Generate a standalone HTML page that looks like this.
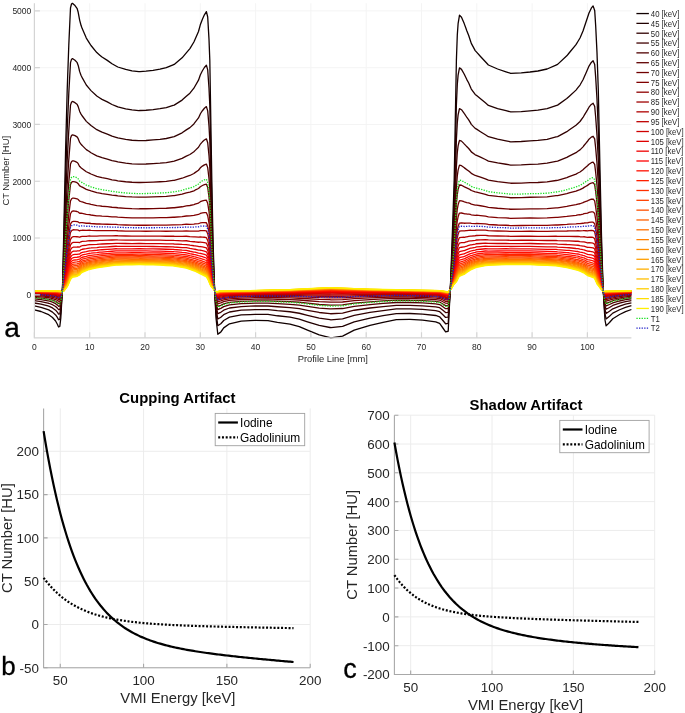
<!DOCTYPE html><html><head><meta charset="utf-8"><style>html,body{margin:0;padding:0;background:#fff}svg{display:block;will-change:transform}text{font-family:"Liberation Sans",sans-serif;fill:#262626}</style></head><body>
<svg width="685" height="713" viewBox="0 0 685 713">
<g stroke="#f4f4f4" stroke-width="1"><line x1="89.70" y1="3.20" x2="89.70" y2="337.80"/><line x1="145.00" y1="3.20" x2="145.00" y2="337.80"/><line x1="200.30" y1="3.20" x2="200.30" y2="337.80"/><line x1="255.60" y1="3.20" x2="255.60" y2="337.80"/><line x1="310.90" y1="3.20" x2="310.90" y2="337.80"/><line x1="366.20" y1="3.20" x2="366.20" y2="337.80"/><line x1="421.50" y1="3.20" x2="421.50" y2="337.80"/><line x1="476.80" y1="3.20" x2="476.80" y2="337.80"/><line x1="532.10" y1="3.20" x2="532.10" y2="337.80"/><line x1="587.40" y1="3.20" x2="587.40" y2="337.80"/><line x1="34.40" y1="294.80" x2="631.40" y2="294.80"/><line x1="34.40" y1="238.02" x2="631.40" y2="238.02"/><line x1="34.40" y1="181.24" x2="631.40" y2="181.24"/><line x1="34.40" y1="124.46" x2="631.40" y2="124.46"/><line x1="34.40" y1="67.68" x2="631.40" y2="67.68"/><line x1="34.40" y1="10.90" x2="631.40" y2="10.90"/></g>
<g fill="none" stroke-width="1.3" stroke-linejoin="round"><polyline points="34.40,309.80 41.00,311.50 48.00,314.41 48.70,314.70 52.50,317.50 55.60,321.00 57.50,324.50 58.00,325.64 58.60,327.00 59.80,326.50 60.50,320.55 60.80,318.00 62.50,288.00 63.60,240.00 63.90,226.50 65.50,154.50 65.60,150.00 67.20,90.00 67.40,84.37 68.80,45.00 69.00,40.64 70.40,10.08 70.50,7.90 71.50,4.00 72.00,3.65 72.50,3.30 73.50,4.22 75.00,5.60 77.00,8.27 77.10,8.40 78.20,12.30 79.60,19.77 79.70,20.30 80.80,24.53 81.00,25.30 82.20,28.60 82.30,28.83 86.30,38.10 89.30,42.82 91.00,45.50 96.80,52.60 99.80,55.14 102.00,57.00 107.30,60.40 112.00,63.80 116.00,66.01 117.80,67.00 125.70,69.40 132.00,70.80 138.80,71.60 140.00,71.53 146.00,71.20 153.10,70.30 160.00,69.20 166.30,67.70 173.10,64.86 174.20,64.40 182.10,57.80 186.30,52.85 189.90,48.60 193.90,42.00 195.00,39.49 198.50,31.50 200.30,24.87 200.40,24.50 202.40,19.20 204.40,14.80 206.40,11.60 207.70,17.00 208.20,25.62 209.00,39.40 209.80,60.00 210.80,120.00 211.80,180.00 213.00,240.00 214.30,280.63 214.60,290.00 216.00,318.00 216.50,322.53 217.80,334.30 220.00,332.61 220.80,332.00 223.70,327.90 229.50,323.80 241.20,321.10 250.00,320.60 255.20,320.30 268.00,320.60 277.40,322.30 290.00,324.10 299.30,326.70 307.50,330.20 319.20,334.90 330.00,337.58 330.90,337.80 342.60,336.10 354.20,330.20 370.00,325.30 383.10,322.30 396.30,319.70 409.40,319.40 410.00,319.43 422.60,320.10 435.70,321.80 439.60,323.40 440.00,323.96 442.90,328.00 445.60,331.90 448.00,331.25 448.20,331.20 449.20,310.00 449.50,304.55 450.30,290.00 451.30,262.50 452.30,235.00 453.50,200.26 454.20,180.00 455.30,120.00 456.40,60.00 456.50,57.22 457.30,35.00 458.10,23.70 459.10,17.56 459.50,15.10 461.50,17.30 464.00,23.00 464.40,24.11 466.10,28.83 466.70,30.50 468.70,35.50 470.50,40.97 471.30,43.40 475.20,50.60 476.60,52.16 480.50,56.50 485.40,61.77 488.40,65.00 497.60,69.00 506.00,71.76 510.70,73.30 521.20,72.90 530.00,72.00 537.90,71.00 547.10,69.00 556.00,65.10 557.60,64.40 566.80,55.80 569.10,53.02 576.00,44.70 577.90,41.52 580.00,38.00 583.00,31.00 584.00,28.00 586.00,22.00 587.50,17.50 589.00,13.00 591.30,8.20 593.10,5.90 594.50,9.92 594.70,10.50 595.70,26.30 597.00,52.60 597.20,58.35 598.30,90.00 600.00,170.00 600.70,200.80 601.50,236.00 603.00,285.00 603.50,294.58 604.20,308.00 605.00,320.00 606.00,325.36 606.10,325.90 609.50,322.50 612.80,318.70 619.60,314.50 625.50,311.60 631.40,309.50" stroke="#100000"/><polyline points="34.40,305.97 41.00,307.32 48.00,309.65 48.70,309.88 52.50,312.11 55.60,314.91 57.50,317.70 58.00,318.61 58.60,319.72 59.80,319.36 60.50,314.63 60.80,312.61 62.50,288.77 63.60,250.32 63.90,239.51 65.50,181.63 65.60,178.01 67.20,129.71 67.40,125.17 68.80,93.10 69.00,89.53 70.40,64.45 70.50,62.68 71.50,59.34 72.00,58.95 72.50,58.62 73.50,59.25 75.00,60.29 77.00,62.35 77.10,62.45 78.20,65.44 79.60,71.25 79.70,71.65 80.80,74.73 81.00,75.32 82.20,77.77 82.30,77.94 86.30,85.02 89.30,88.55 91.00,90.61 96.80,96.04 99.80,97.94 102.00,99.36 107.30,101.93 112.00,104.52 116.00,106.17 117.80,106.95 125.70,108.84 132.00,109.93 138.80,110.54 140.00,110.48 146.00,110.24 153.10,109.56 160.00,108.72 166.30,107.60 173.10,105.41 174.20,105.08 182.10,100.08 186.30,96.27 189.90,93.14 193.90,88.16 195.00,86.23 198.50,80.20 200.30,75.08 200.40,74.80 202.40,70.77 204.40,67.47 206.40,65.12 207.70,69.88 208.20,76.93 209.00,88.31 209.80,105.14 210.80,153.51 211.80,201.63 213.00,249.79 214.30,282.52 214.60,290.05 216.00,312.63 216.50,316.33 217.80,325.67 220.00,324.22 220.80,323.73 223.70,320.45 229.50,317.16 241.20,314.97 250.00,314.55 255.20,314.28 268.00,314.46 277.40,315.77 290.00,317.14 299.30,319.12 307.50,321.83 319.20,325.47 330.00,327.50 330.90,327.68 342.60,326.42 354.20,321.80 370.00,318.02 383.10,315.68 396.30,313.65 409.40,313.47 410.00,313.49 422.60,314.08 435.70,315.49 439.60,316.78 440.00,317.23 442.90,320.55 445.60,323.75 448.00,323.32 448.20,323.23 449.20,306.12 449.50,301.71 450.30,289.94 451.30,267.79 452.30,245.49 453.50,217.36 454.20,201.03 455.30,152.88 456.40,104.74 456.50,102.50 457.30,84.44 458.10,75.10 459.10,69.79 459.50,67.80 461.50,69.38 464.00,73.73 464.40,74.58 466.10,78.09 466.70,79.33 468.70,83.04 470.50,87.15 471.30,89.02 475.20,94.43 476.60,95.56 480.50,98.86 485.40,102.87 488.40,105.42 497.60,108.53 506.00,110.66 510.70,111.89 521.20,111.57 530.00,110.85 537.90,110.13 547.10,108.63 556.00,105.61 557.60,105.10 566.80,98.55 569.10,96.41 576.00,90.11 577.90,87.67 580.00,85.05 583.00,79.73 584.00,77.42 586.00,72.93 587.50,69.56 589.00,66.08 591.30,62.42 593.10,60.72 594.50,64.04 594.70,64.59 595.70,77.66 597.00,99.25 597.20,103.93 598.30,129.47 600.00,193.77 600.70,218.53 601.50,246.79 603.00,286.21 603.50,293.96 604.20,304.65 605.00,314.21 606.00,318.47 606.10,318.90 609.50,316.18 612.80,313.13 619.60,309.76 625.50,307.42 631.40,305.73" stroke="#200000"/><polyline points="34.40,303.00 41.00,304.09 48.00,305.96 48.70,306.14 52.50,307.94 55.60,310.19 57.50,312.44 58.00,313.17 58.60,314.08 59.80,313.82 60.50,310.04 60.80,308.44 62.50,289.36 63.60,258.32 63.90,249.59 65.50,202.65 65.60,199.71 67.20,160.47 67.40,156.77 68.80,130.36 69.00,127.40 70.40,106.56 70.50,105.12 71.50,102.22 72.00,101.79 72.50,101.47 73.50,101.87 75.00,102.66 77.00,104.25 77.10,104.32 78.20,106.61 79.60,111.13 79.70,111.43 80.80,113.62 81.00,114.06 82.20,115.87 82.30,115.99 86.30,121.37 89.30,123.97 91.00,125.56 96.80,129.68 99.80,131.09 102.00,132.18 107.30,134.10 112.00,136.06 116.00,137.28 117.80,137.90 125.70,139.38 132.00,140.24 138.80,140.70 140.00,140.65 146.00,140.49 153.10,139.97 160.00,139.33 166.30,138.50 173.10,136.83 174.20,136.60 182.10,132.83 186.30,129.90 189.90,127.64 193.90,123.91 195.00,122.44 198.50,117.92 200.30,113.98 200.40,113.76 202.40,110.72 204.40,108.26 206.40,106.57 207.70,110.84 208.20,116.68 209.00,126.20 209.80,140.10 210.80,179.46 211.80,218.38 213.00,257.38 214.30,283.98 214.60,290.09 216.00,308.47 216.50,311.53 217.80,318.98 220.00,317.72 220.80,317.32 223.70,314.67 229.50,312.01 241.20,310.22 250.00,309.86 255.20,309.62 268.00,309.70 277.40,310.71 290.00,311.75 299.30,313.25 307.50,315.35 319.20,318.16 330.00,319.69 330.90,319.84 342.60,318.92 354.20,315.30 370.00,312.38 383.10,310.54 396.30,308.97 409.40,308.87 410.00,308.90 422.60,309.42 435.70,310.60 439.60,311.66 440.00,312.02 442.90,314.78 445.60,317.44 448.00,317.17 448.20,317.06 449.20,303.12 449.50,299.52 450.30,289.89 451.30,271.88 452.30,253.62 453.50,230.60 454.20,217.31 455.30,178.36 456.40,139.40 456.50,137.58 457.30,122.74 458.10,114.91 459.10,110.25 459.50,108.62 461.50,109.73 464.00,113.02 464.40,113.67 466.10,116.24 466.70,117.16 468.70,119.86 470.50,122.92 471.30,124.36 475.20,128.39 476.60,129.17 480.50,131.68 485.40,134.70 488.40,136.73 497.60,139.15 506.00,140.79 510.70,141.78 521.20,141.52 530.00,140.95 537.90,140.45 547.10,139.33 556.00,136.98 557.60,136.63 566.80,131.66 569.10,130.02 576.00,125.29 577.90,123.42 580.00,121.49 583.00,117.47 584.00,115.70 586.00,112.38 587.50,109.89 589.00,107.20 591.30,104.43 593.10,103.19 594.50,105.96 594.70,106.49 595.70,117.45 597.00,135.38 597.20,139.24 598.30,160.05 600.00,212.18 600.70,232.27 601.50,255.15 603.00,287.15 603.50,293.48 604.20,302.06 605.00,309.73 606.00,313.13 606.10,313.48 609.50,311.28 612.80,308.82 619.60,306.08 625.50,304.19 631.40,302.81" stroke="#300000"/><polyline points="34.40,300.69 41.00,301.57 48.00,303.09 48.70,303.24 52.50,304.70 55.60,306.52 57.50,308.34 58.00,308.93 58.60,309.69 59.80,309.52 60.50,306.48 60.80,305.19 62.50,289.82 63.60,264.54 63.90,257.43 65.50,219.00 65.60,216.60 67.20,184.40 67.40,181.35 68.80,159.35 69.00,156.86 70.40,139.33 70.50,138.14 71.50,135.57 72.00,135.12 72.50,134.81 73.50,135.03 75.00,135.63 77.00,136.85 77.10,136.90 78.20,138.64 79.60,142.17 79.70,142.38 80.80,143.88 81.00,144.21 82.20,145.50 82.30,145.59 86.30,149.64 89.30,151.53 91.00,152.75 96.80,155.86 99.80,156.88 102.00,157.71 107.30,159.13 112.00,160.60 116.00,161.48 117.80,161.98 125.70,163.15 132.00,163.82 138.80,164.17 140.00,164.12 146.00,164.02 153.10,163.63 160.00,163.15 166.30,162.55 173.10,161.27 174.20,161.12 182.10,158.32 186.30,156.07 189.90,154.48 193.90,151.73 195.00,150.61 198.50,147.27 200.30,144.25 200.40,144.08 202.40,141.81 204.40,140.00 206.40,138.83 207.70,142.71 208.20,147.61 209.00,155.68 209.80,167.30 210.80,199.65 211.80,231.42 213.00,263.28 214.30,285.12 214.60,290.12 216.00,305.24 216.50,307.79 217.80,313.78 220.00,312.66 220.80,312.33 223.70,310.18 229.50,308.01 241.20,306.53 250.00,306.21 255.20,305.99 268.00,306.00 277.40,306.77 290.00,307.56 299.30,308.69 307.50,310.31 319.20,312.48 330.00,313.61 330.90,313.74 342.60,313.08 354.20,310.24 370.00,307.99 383.10,306.55 396.30,305.33 409.40,305.30 410.00,305.32 422.60,305.79 435.70,306.80 439.60,307.67 440.00,307.96 442.90,310.29 445.60,312.53 448.00,312.38 448.20,312.26 449.20,300.78 449.50,297.81 450.30,289.86 451.30,275.06 452.30,259.95 453.50,240.90 454.20,229.98 455.30,198.18 456.40,166.37 456.50,164.87 457.30,152.54 458.10,145.89 459.10,141.73 459.50,140.38 461.50,141.12 464.00,143.59 464.40,144.09 466.10,145.93 466.70,146.59 468.70,148.52 470.50,150.75 471.30,151.86 475.20,154.81 476.60,155.33 480.50,157.21 485.40,159.47 488.40,161.09 497.60,162.98 506.00,164.24 510.70,165.04 521.20,164.83 530.00,164.36 537.90,164.03 547.10,163.21 556.00,161.40 557.60,161.16 566.80,157.42 569.10,156.17 576.00,152.66 577.90,151.23 580.00,149.85 583.00,146.84 584.00,145.49 586.00,143.08 587.50,141.27 589.00,139.20 591.30,137.11 593.10,136.23 594.50,138.58 594.70,139.09 595.70,148.40 597.00,163.50 597.20,166.71 598.30,183.84 600.00,226.50 600.70,242.95 601.50,261.66 603.00,287.88 603.50,293.10 604.20,300.05 605.00,306.25 606.00,308.98 606.10,309.26 609.50,307.46 612.80,305.46 619.60,303.22 625.50,301.67 631.40,300.53" stroke="#400000"/><polyline points="34.40,298.88 41.00,299.61 48.00,300.84 48.70,300.97 52.50,302.16 55.60,303.65 57.50,305.13 58.00,305.62 58.60,306.25 59.80,306.15 60.50,303.68 60.80,302.65 62.50,290.18 63.60,269.40 63.90,263.56 65.50,231.79 65.60,229.80 67.20,203.12 67.40,200.58 68.80,182.02 69.00,179.91 70.40,164.96 70.50,163.96 71.50,161.66 72.00,161.19 72.50,160.88 73.50,160.97 75.00,161.41 77.00,162.35 77.10,162.37 78.20,163.69 79.60,166.43 79.70,166.58 80.80,167.54 81.00,167.78 82.20,168.68 82.30,168.74 86.30,171.76 89.30,173.08 91.00,174.01 96.80,176.34 99.80,177.05 102.00,177.67 107.30,178.71 112.00,179.79 116.00,180.41 117.80,180.81 125.70,181.74 132.00,182.26 138.80,182.52 140.00,182.48 146.00,182.42 153.10,182.14 160.00,181.77 166.30,181.35 173.10,180.38 174.20,180.29 182.10,178.24 186.30,176.54 189.90,175.47 193.90,173.48 195.00,172.64 198.50,170.23 200.30,167.91 200.40,167.79 202.40,166.12 204.40,164.83 206.40,164.05 207.70,167.63 208.20,171.79 209.00,178.74 209.80,188.58 210.80,215.45 211.80,241.61 213.00,267.90 214.30,286.01 214.60,290.14 216.00,302.71 216.50,304.87 217.80,309.71 220.00,308.70 220.80,308.43 223.70,306.67 229.50,304.88 241.20,303.64 250.00,303.36 255.20,303.16 268.00,303.10 277.40,303.69 290.00,304.28 299.30,305.11 307.50,306.37 319.20,308.03 330.00,308.86 330.90,308.97 342.60,308.52 354.20,306.28 370.00,304.56 383.10,303.43 396.30,302.48 409.40,302.50 410.00,302.52 422.60,302.95 435.70,303.82 439.60,304.55 440.00,304.79 442.90,306.78 445.60,308.69 448.00,308.64 448.20,308.51 449.20,298.96 449.50,296.47 450.30,289.83 451.30,277.56 452.30,264.89 453.50,248.96 454.20,239.89 455.30,213.68 456.40,187.46 456.50,186.22 457.30,175.84 458.10,170.12 459.10,166.36 459.50,165.21 461.50,165.67 464.00,167.50 464.40,167.88 466.10,169.14 466.70,169.61 468.70,170.92 470.50,172.52 471.30,173.36 475.20,175.47 476.60,175.79 480.50,177.18 485.40,178.84 488.40,180.14 497.60,181.61 506.00,182.57 510.70,183.23 521.20,183.06 530.00,182.68 537.90,182.48 547.10,181.89 556.00,180.49 557.60,180.34 566.80,177.57 569.10,176.62 576.00,174.07 577.90,172.98 580.00,172.02 583.00,169.81 584.00,168.79 586.00,167.09 587.50,165.81 589.00,164.22 591.30,162.67 593.10,162.07 594.50,164.09 594.70,164.59 595.70,172.61 597.00,185.48 597.20,188.19 598.30,202.45 600.00,237.70 600.70,251.31 601.50,266.74 603.00,288.45 603.50,292.81 604.20,298.47 605.00,303.52 606.00,305.73 606.10,305.96 609.50,304.48 612.80,302.84 619.60,300.99 625.50,299.70 631.40,298.75" stroke="#500000"/><polyline points="34.40,297.44 41.00,298.04 48.00,299.05 48.70,299.15 52.50,300.13 55.60,301.36 57.50,302.58 58.00,302.98 58.60,303.52 59.80,303.47 60.50,301.46 60.80,300.63 62.50,290.47 63.60,273.28 63.90,268.45 65.50,241.98 65.60,240.33 67.20,218.04 67.40,215.91 68.80,200.10 69.00,198.28 70.40,185.39 70.50,184.55 71.50,182.45 72.00,181.97 72.50,181.67 73.50,181.64 75.00,181.96 77.00,182.67 77.10,182.68 78.20,183.66 79.60,185.78 79.70,185.88 80.80,186.40 81.00,186.58 82.20,187.16 82.30,187.19 86.30,189.39 89.30,190.26 91.00,190.97 96.80,192.66 99.80,193.14 102.00,193.59 107.30,194.31 112.00,195.09 116.00,195.50 117.80,195.83 125.70,196.56 132.00,196.96 138.80,197.15 140.00,197.11 146.00,197.09 153.10,196.89 160.00,196.62 166.30,196.35 173.10,195.62 174.20,195.58 182.10,194.13 186.30,192.85 189.90,192.20 193.90,190.82 195.00,190.20 198.50,188.53 200.30,186.78 200.40,186.69 202.40,185.49 204.40,184.62 206.40,184.16 207.70,187.50 208.20,191.08 209.00,197.11 209.80,205.54 210.80,228.04 211.80,249.74 213.00,271.58 214.30,286.72 214.60,290.16 216.00,300.69 216.50,302.54 217.80,306.46 220.00,305.55 220.80,305.33 223.70,303.87 229.50,302.38 241.20,301.34 250.00,301.09 255.20,300.90 268.00,300.79 277.40,301.24 290.00,301.66 299.30,302.27 307.50,303.22 319.20,304.49 330.00,305.07 330.90,305.17 342.60,304.88 354.20,303.12 370.00,301.82 383.10,300.94 396.30,300.20 409.40,300.27 410.00,300.29 422.60,300.69 435.70,301.45 439.60,302.06 440.00,302.26 442.90,303.98 445.60,305.63 448.00,305.66 448.20,305.52 449.20,297.50 449.50,295.41 450.30,289.80 451.30,279.54 452.30,268.83 453.50,255.38 454.20,247.79 455.30,226.03 456.40,204.27 456.50,203.23 457.30,194.42 458.10,189.43 459.10,185.98 459.50,185.02 461.50,185.24 464.00,186.56 464.40,186.84 466.10,187.65 466.70,187.95 468.70,188.79 470.50,189.87 471.30,190.50 475.20,191.94 476.60,192.09 480.50,193.09 485.40,194.28 488.40,195.33 497.60,196.46 506.00,197.19 510.70,197.73 521.20,197.59 530.00,197.27 537.90,197.18 547.10,196.78 556.00,195.71 557.60,195.64 566.80,193.64 569.10,192.92 576.00,191.13 577.90,190.33 580.00,189.70 583.00,188.12 584.00,187.36 586.00,186.22 587.50,185.38 589.00,184.17 591.30,183.04 593.10,182.67 594.50,184.42 594.70,184.91 595.70,191.91 597.00,203.01 597.20,205.32 598.30,217.28 600.00,246.63 600.70,257.97 601.50,270.80 603.00,288.90 603.50,292.58 604.20,297.21 605.00,301.35 606.00,303.14 606.10,303.33 609.50,302.11 612.80,300.74 619.60,299.21 625.50,298.13 631.40,297.34" stroke="#600000"/><polyline points="34.40,296.30 41.00,296.79 48.00,297.63 48.70,297.72 52.50,298.53 55.60,299.54 57.50,300.55 58.00,300.88 58.60,301.34 59.80,301.33 60.50,299.69 60.80,299.02 62.50,290.70 63.60,276.37 63.90,272.34 65.50,250.08 65.60,248.69 67.20,229.90 67.40,228.09 68.80,214.46 69.00,212.88 70.40,201.62 70.50,200.91 71.50,198.98 72.00,198.48 72.50,198.19 73.50,198.08 75.00,198.29 77.00,198.82 77.10,198.82 78.20,199.53 79.60,201.15 79.70,201.21 80.80,201.39 81.00,201.51 82.20,201.84 82.30,201.86 86.30,203.40 89.30,203.91 91.00,204.44 96.80,205.63 99.80,205.91 102.00,206.24 107.30,206.71 112.00,207.24 116.00,207.50 117.80,207.76 125.70,208.33 132.00,208.65 138.80,208.78 140.00,208.74 146.00,208.75 153.10,208.61 160.00,208.42 166.30,208.26 173.10,207.73 174.20,207.73 182.10,206.76 186.30,205.82 189.90,205.50 193.90,204.61 195.00,204.16 198.50,203.07 200.30,201.78 200.40,201.70 202.40,200.89 204.40,200.34 206.40,200.14 207.70,203.29 208.20,206.40 209.00,211.72 209.80,219.01 210.80,238.04 211.80,256.19 213.00,274.50 214.30,287.29 214.60,290.17 216.00,299.09 216.50,300.69 217.80,303.89 220.00,303.04 220.80,302.86 223.70,301.64 229.50,300.40 241.20,299.51 250.00,299.28 255.20,299.10 268.00,298.96 277.40,299.29 290.00,299.58 299.30,300.00 307.50,300.73 319.20,301.67 330.00,302.06 330.90,302.15 342.60,301.99 354.20,300.61 370.00,299.65 383.10,298.96 396.30,298.40 409.40,298.50 410.00,298.52 422.60,298.89 435.70,299.57 439.60,300.08 440.00,300.25 442.90,301.76 445.60,303.20 448.00,303.29 448.20,303.14 449.20,296.34 449.50,294.56 450.30,289.79 451.30,281.12 452.30,271.97 453.50,260.48 454.20,254.07 455.30,235.85 456.40,217.63 456.50,216.75 457.30,209.18 458.10,204.78 459.10,201.58 459.50,200.75 461.50,200.80 464.00,201.71 464.40,201.91 466.10,202.35 466.70,202.54 468.70,202.98 470.50,203.66 471.30,204.12 475.20,205.03 476.60,205.05 480.50,205.74 485.40,206.55 488.40,207.40 497.60,208.27 506.00,208.80 510.70,209.25 521.20,209.13 530.00,208.87 537.90,208.87 547.10,208.61 556.00,207.80 557.60,207.79 566.80,206.40 569.10,205.87 576.00,204.69 577.90,204.11 580.00,203.75 583.00,202.67 584.00,202.11 586.00,201.43 587.50,200.92 589.00,200.02 591.30,199.23 593.10,199.04 594.50,200.58 594.70,201.07 595.70,207.24 597.00,216.94 597.20,218.93 598.30,229.06 600.00,253.73 600.70,263.27 601.50,274.02 603.00,289.26 603.50,292.39 604.20,296.21 605.00,299.62 606.00,301.08 606.10,301.24 609.50,300.22 612.80,299.08 619.60,297.79 625.50,296.88 631.40,296.21" stroke="#700000"/><polyline points="34.40,295.40 41.00,295.81 48.00,296.52 48.70,296.59 52.50,297.26 55.60,298.11 57.50,298.96 58.00,299.23 58.60,299.64 59.80,299.66 60.50,298.30 60.80,297.76 62.50,290.88 63.60,278.78 63.90,275.39 65.50,256.44 65.60,255.26 67.20,239.20 67.40,237.65 68.80,225.73 69.00,224.33 70.40,214.36 70.50,213.74 71.50,211.95 72.00,211.43 72.50,211.15 73.50,210.97 75.00,211.11 77.00,211.49 77.10,211.48 78.20,211.98 79.60,213.21 79.70,213.24 80.80,213.15 81.00,213.23 82.20,213.36 82.30,213.36 86.30,214.39 89.30,214.63 91.00,215.00 96.80,215.80 99.80,215.94 102.00,216.16 107.30,216.44 112.00,216.78 116.00,216.90 117.80,217.12 125.70,217.57 132.00,217.81 138.80,217.90 140.00,217.86 146.00,217.90 153.10,217.81 160.00,217.68 166.30,217.61 173.10,217.23 174.20,217.26 182.10,216.66 186.30,215.99 189.90,215.94 193.90,215.42 195.00,215.11 198.50,214.48 200.30,213.54 200.40,213.49 202.40,212.98 204.40,212.68 206.40,212.68 207.70,215.68 208.20,218.42 209.00,223.18 209.80,229.59 210.80,245.89 211.80,261.26 213.00,276.80 214.30,287.73 214.60,290.19 216.00,297.83 216.50,299.24 217.80,301.86 220.00,301.07 220.80,300.92 223.70,299.90 229.50,298.84 241.20,298.07 250.00,297.86 255.20,297.69 268.00,297.52 277.40,297.75 290.00,297.95 299.30,298.23 307.50,298.77 319.20,299.46 330.00,299.70 330.90,299.78 342.60,299.72 354.20,298.65 370.00,297.94 383.10,297.41 396.30,296.98 409.40,297.11 410.00,297.12 422.60,297.48 435.70,298.09 439.60,298.53 440.00,298.68 442.90,300.01 445.60,301.29 448.00,301.43 448.20,301.27 449.20,295.43 449.50,293.90 450.30,289.77 451.30,282.36 452.30,274.43 453.50,264.49 454.20,259.00 455.30,243.56 456.40,228.11 456.50,227.36 457.30,220.77 458.10,216.82 459.10,213.82 459.50,213.10 461.50,213.00 464.00,213.59 464.40,213.73 466.10,213.89 466.70,213.98 468.70,214.12 470.50,214.48 471.30,214.81 475.20,215.29 476.60,215.22 480.50,215.67 485.40,216.18 488.40,216.86 497.60,217.53 506.00,217.92 510.70,218.29 521.20,218.19 530.00,217.98 537.90,218.03 547.10,217.90 556.00,217.29 557.60,217.33 566.80,216.41 569.10,216.04 576.00,215.33 577.90,214.92 580.00,214.77 583.00,214.08 584.00,213.69 586.00,213.36 587.50,213.12 589.00,212.45 591.30,211.94 593.10,211.89 594.50,213.26 594.70,213.74 595.70,219.28 597.00,227.87 597.20,229.60 598.30,238.31 600.00,259.30 600.70,267.42 601.50,276.55 603.00,289.55 603.50,292.25 604.20,295.43 605.00,298.26 606.00,299.47 606.10,299.60 609.50,298.74 612.80,297.78 619.60,296.68 625.50,295.91 631.40,295.33" stroke="#800000"/><polyline points="34.40,294.68 41.00,295.02 48.00,295.62 48.70,295.68 52.50,296.25 55.60,296.96 57.50,297.68 58.00,297.91 58.60,298.26 59.80,298.31 60.50,297.19 60.80,296.74 62.50,291.02 63.60,280.73 63.90,277.84 65.50,261.55 65.60,260.53 67.20,246.68 67.40,245.33 68.80,234.79 69.00,233.54 70.40,224.60 70.50,224.07 71.50,222.38 72.00,221.86 72.50,221.57 73.50,221.34 75.00,221.41 77.00,221.68 77.10,221.67 78.20,221.99 79.60,222.92 79.70,222.92 80.80,222.62 81.00,222.66 82.20,222.63 82.30,222.62 86.30,223.24 89.30,223.24 91.00,223.51 96.80,223.99 99.80,224.01 102.00,224.15 107.30,224.27 112.00,224.45 116.00,224.47 117.80,224.65 125.70,225.00 132.00,225.19 138.80,225.24 140.00,225.20 146.00,225.25 153.10,225.21 160.00,225.12 166.30,225.12 173.10,224.88 174.20,224.93 182.10,224.63 186.30,224.18 189.90,224.33 193.90,224.12 195.00,223.92 198.50,223.65 200.30,223.00 200.40,222.97 202.40,222.70 204.40,222.61 206.40,222.76 207.70,225.65 208.20,228.09 209.00,232.40 209.80,238.09 210.80,252.21 211.80,265.34 213.00,278.64 214.30,288.09 214.60,290.20 216.00,296.82 216.50,298.07 217.80,300.24 220.00,299.49 220.80,299.36 223.70,298.49 229.50,297.59 241.20,296.92 250.00,296.72 255.20,296.56 268.00,296.36 277.40,296.52 290.00,296.64 299.30,296.80 307.50,297.19 319.20,297.68 330.00,297.80 330.90,297.87 342.60,297.90 354.20,297.06 370.00,296.57 383.10,296.16 396.30,295.84 409.40,295.99 410.00,296.01 422.60,296.34 435.70,296.90 439.60,297.29 440.00,297.41 442.90,298.61 445.60,299.75 448.00,299.93 448.20,299.77 449.20,294.70 449.50,293.37 450.30,289.76 451.30,283.35 452.30,276.40 453.50,267.71 454.20,262.96 455.30,249.75 456.40,236.55 456.50,235.89 457.30,230.08 458.10,226.51 459.10,223.66 459.50,223.03 461.50,222.81 464.00,223.15 464.40,223.25 466.10,223.18 466.70,223.18 468.70,223.08 470.50,223.18 471.30,223.41 475.20,223.55 476.60,223.40 480.50,223.65 485.40,223.93 488.40,224.48 497.60,224.98 506.00,225.25 510.70,225.56 521.20,225.48 530.00,225.30 537.90,225.41 547.10,225.37 556.00,224.92 557.60,225.00 566.80,224.47 569.10,224.21 576.00,223.89 577.90,223.61 580.00,223.64 583.00,223.26 584.00,223.01 586.00,222.96 587.50,222.93 589.00,222.46 591.30,222.16 593.10,222.22 594.50,223.46 594.70,223.93 595.70,228.95 597.00,236.66 597.20,238.19 598.30,245.75 600.00,263.78 600.70,270.76 601.50,278.58 603.00,289.78 603.50,292.13 604.20,294.80 605.00,297.17 606.00,298.17 606.10,298.28 609.50,297.54 612.80,296.73 619.60,295.78 625.50,295.12 631.40,294.62" stroke="#8f0000"/><polyline points="34.40,294.09 41.00,294.39 48.00,294.89 48.70,294.94 52.50,295.42 55.60,296.03 57.50,296.64 58.00,296.83 58.60,297.15 59.80,297.22 60.50,296.28 60.80,295.92 62.50,291.14 63.60,282.31 63.90,279.83 65.50,265.70 65.60,264.82 67.20,252.76 67.40,251.57 68.80,242.15 69.00,241.02 70.40,232.92 70.50,232.45 71.50,230.84 72.00,230.32 72.50,230.03 73.50,229.75 75.00,229.78 77.00,229.96 77.10,229.94 78.20,230.12 79.60,230.79 79.70,230.77 80.80,230.29 81.00,230.31 82.20,230.15 82.30,230.13 86.30,230.41 89.30,230.24 91.00,230.41 96.80,230.63 99.80,230.55 102.00,230.63 107.30,230.62 112.00,230.68 116.00,230.62 117.80,230.76 125.70,231.04 132.00,231.17 138.80,231.19 140.00,231.16 146.00,231.23 153.10,231.22 160.00,231.17 166.30,231.23 173.10,231.08 174.20,231.15 182.10,231.10 186.30,230.82 189.90,231.14 193.90,231.18 195.00,231.07 198.50,231.10 200.30,230.68 200.40,230.66 202.40,230.58 204.40,230.66 206.40,230.95 207.70,233.73 208.20,235.94 209.00,239.88 209.80,245.00 210.80,257.33 211.80,268.64 213.00,280.14 214.30,288.38 214.60,290.20 216.00,296.00 216.50,297.12 217.80,298.92 220.00,298.21 220.80,298.09 223.70,297.35 229.50,296.58 241.20,295.98 250.00,295.80 255.20,295.64 268.00,295.42 277.40,295.52 290.00,295.58 299.30,295.64 307.50,295.91 319.20,296.24 330.00,296.26 330.90,296.32 342.60,296.42 354.20,295.78 370.00,295.45 383.10,295.15 396.30,294.92 409.40,295.08 410.00,295.10 422.60,295.42 435.70,295.93 439.60,296.27 440.00,296.38 442.90,297.47 445.60,298.51 448.00,298.72 448.20,298.55 449.20,294.11 449.50,292.93 450.30,289.75 451.30,284.16 452.30,278.01 453.50,270.32 454.20,266.18 455.30,254.78 456.40,243.39 456.50,242.82 457.30,237.65 458.10,234.37 459.10,231.65 459.50,231.09 461.50,230.78 464.00,230.91 464.40,230.97 466.10,230.71 466.70,230.65 468.70,230.35 470.50,230.25 471.30,230.39 475.20,230.26 476.60,230.04 480.50,230.13 485.40,230.21 488.40,230.66 497.60,231.02 506.00,231.20 510.70,231.47 521.20,231.40 530.00,231.24 537.90,231.39 547.10,231.43 556.00,231.12 557.60,231.22 566.80,231.01 569.10,230.85 576.00,230.83 577.90,230.67 580.00,230.83 583.00,230.72 584.00,230.56 586.00,230.75 587.50,230.90 589.00,230.58 591.30,230.45 593.10,230.61 594.50,231.73 594.70,232.21 595.70,236.81 597.00,243.79 597.20,245.16 598.30,251.79 600.00,267.41 600.70,273.48 601.50,280.23 603.00,289.96 603.50,292.03 604.20,294.29 605.00,296.29 606.00,297.12 606.10,297.21 609.50,296.58 612.80,295.87 619.60,295.06 625.50,294.48 631.40,294.04" stroke="#9f0000"/><polyline points="34.40,293.61 41.00,293.86 48.00,294.29 48.70,294.34 52.50,294.75 55.60,295.27 57.50,295.79 58.00,295.95 58.60,296.24 59.80,296.33 60.50,295.54 60.80,295.24 62.50,291.24 63.60,283.60 63.90,281.46 65.50,269.10 65.60,268.33 67.20,257.73 67.40,256.69 68.80,248.18 69.00,247.15 70.40,239.73 70.50,239.31 71.50,237.78 72.00,237.25 72.50,236.97 73.50,236.65 75.00,236.63 77.00,236.74 77.10,236.71 78.20,236.78 79.60,237.24 79.70,237.21 80.80,236.59 81.00,236.58 82.20,236.31 82.30,236.29 86.30,236.29 89.30,235.97 91.00,236.06 96.80,236.08 99.80,235.92 102.00,235.94 107.30,235.83 112.00,235.79 116.00,235.65 117.80,235.76 125.70,235.98 132.00,236.07 138.80,236.07 140.00,236.04 146.00,236.12 153.10,236.14 160.00,236.12 166.30,236.23 173.10,236.16 174.20,236.25 182.10,236.40 186.30,236.26 189.90,236.72 193.90,236.96 195.00,236.92 198.50,237.21 200.30,236.98 200.40,236.97 202.40,237.05 204.40,237.26 206.40,237.66 207.70,240.36 208.20,242.37 209.00,246.01 209.80,250.66 210.80,261.53 211.80,271.35 213.00,281.37 214.30,288.61 214.60,290.21 216.00,295.33 216.50,296.35 217.80,297.83 220.00,297.16 220.80,297.06 223.70,296.42 229.50,295.74 241.20,295.21 250.00,295.04 255.20,294.88 268.00,294.65 277.40,294.71 290.00,294.70 299.30,294.69 307.50,294.86 319.20,295.06 330.00,294.99 330.90,295.06 342.60,295.20 354.20,294.73 370.00,294.54 383.10,294.32 396.30,294.16 409.40,294.34 410.00,294.35 422.60,294.67 435.70,295.14 439.60,295.45 440.00,295.53 442.90,296.53 445.60,297.48 448.00,297.72 448.20,297.55 449.20,293.62 449.50,292.58 450.30,289.74 451.30,284.82 452.30,279.32 453.50,272.47 454.20,268.81 455.30,258.91 456.40,249.00 456.50,248.49 457.30,243.84 458.10,240.81 459.10,238.20 459.50,237.69 461.50,237.31 464.00,237.27 464.40,237.29 466.10,236.88 466.70,236.77 468.70,236.31 470.50,236.04 471.30,236.10 475.20,235.75 476.60,235.48 480.50,235.44 485.40,235.36 488.40,235.73 497.60,235.98 506.00,236.07 510.70,236.30 521.20,236.24 530.00,236.11 537.90,236.30 547.10,236.39 556.00,236.20 557.60,236.32 566.80,236.37 569.10,236.29 576.00,236.52 577.90,236.46 580.00,236.73 583.00,236.83 584.00,236.76 586.00,237.14 587.50,237.42 589.00,237.23 591.30,237.25 593.10,237.48 594.50,238.52 594.70,238.99 595.70,243.25 597.00,249.64 597.20,250.88 598.30,256.74 600.00,270.39 600.70,275.70 601.50,281.59 603.00,290.11 603.50,291.96 604.20,293.87 605.00,295.56 606.00,296.25 606.10,296.33 609.50,295.78 612.80,295.18 619.60,294.46 625.50,293.96 631.40,293.57" stroke="#af0000"/><polyline points="34.40,293.21 41.00,293.43 48.00,293.80 48.70,293.84 52.50,294.19 55.60,294.64 57.50,295.08 58.00,295.22 58.60,295.48 59.80,295.59 60.50,294.93 60.80,294.68 62.50,291.32 63.60,284.67 63.90,282.81 65.50,271.92 65.60,271.24 67.20,261.85 67.40,260.92 68.80,253.17 69.00,252.22 70.40,245.37 70.50,245.00 71.50,243.52 72.00,242.98 72.50,242.71 73.50,242.36 75.00,242.31 77.00,242.35 77.10,242.32 78.20,242.29 79.60,242.59 79.70,242.54 80.80,241.79 81.00,241.76 82.20,241.41 82.30,241.38 86.30,241.16 89.30,240.71 91.00,240.74 96.80,240.58 99.80,240.36 102.00,240.33 107.30,240.13 112.00,240.01 116.00,239.82 117.80,239.91 125.70,240.07 132.00,240.13 138.80,240.11 140.00,240.08 146.00,240.17 153.10,240.21 160.00,240.22 166.30,240.37 173.10,240.37 174.20,240.47 182.10,240.78 186.30,240.76 189.90,241.34 193.90,241.75 195.00,241.77 198.50,242.26 200.30,242.19 200.40,242.18 202.40,242.40 204.40,242.73 206.40,243.21 207.70,245.85 208.20,247.69 209.00,251.08 209.80,255.34 210.80,265.01 211.80,273.60 213.00,282.39 214.30,288.81 214.60,290.21 216.00,294.77 216.50,295.70 217.80,296.94 220.00,296.28 220.80,296.20 223.70,295.64 229.50,295.06 241.20,294.58 250.00,294.41 255.20,294.26 268.00,294.02 277.40,294.03 290.00,293.98 299.30,293.91 307.50,293.99 319.20,294.08 330.00,293.95 330.90,294.01 342.60,294.20 354.20,293.86 370.00,293.78 383.10,293.63 396.30,293.53 409.40,293.72 410.00,293.74 422.60,294.04 435.70,294.49 439.60,294.76 440.00,294.84 442.90,295.76 445.60,296.64 448.00,296.90 448.20,296.73 449.20,293.22 449.50,292.28 450.30,289.74 451.30,285.37 452.30,280.41 453.50,274.24 454.20,270.99 455.30,262.32 456.40,253.64 456.50,253.19 457.30,248.97 458.10,246.14 459.10,243.61 459.50,243.16 461.50,242.71 464.00,242.53 464.40,242.53 466.10,241.99 466.70,241.83 468.70,241.24 470.50,240.83 471.30,240.84 475.20,240.30 476.60,239.98 480.50,239.83 485.40,239.63 488.40,239.92 497.60,240.08 506.00,240.11 510.70,240.30 521.20,240.25 530.00,240.14 537.90,240.36 547.10,240.51 556.00,240.40 557.60,240.54 566.80,240.80 569.10,240.79 576.00,241.23 577.90,241.24 580.00,241.61 583.00,241.88 584.00,241.88 586.00,242.42 587.50,242.82 589.00,242.74 591.30,242.87 593.10,243.16 594.50,244.13 594.70,244.60 595.70,248.58 597.00,254.48 597.20,255.60 598.30,260.83 600.00,272.86 600.70,277.54 601.50,282.71 603.00,290.24 603.50,291.89 604.20,293.52 605.00,294.96 606.00,295.54 606.10,295.61 609.50,295.13 612.80,294.60 619.60,293.97 625.50,293.52 631.40,293.17" stroke="#bf0000"/><polyline points="34.40,292.88 41.00,293.07 48.00,293.39 48.70,293.42 52.50,293.72 55.60,294.11 57.50,294.49 58.00,294.61 58.60,294.85 59.80,294.97 60.50,294.41 60.80,294.21 62.50,291.38 63.60,285.57 63.90,283.94 65.50,274.27 65.60,273.67 67.20,265.30 67.40,264.45 68.80,257.34 69.00,256.46 70.40,250.09 70.50,249.75 71.50,248.32 72.00,247.78 72.50,247.50 73.50,247.13 75.00,247.05 77.00,247.04 77.10,247.00 78.20,246.90 79.60,247.05 79.70,246.99 80.80,246.15 81.00,246.10 82.20,245.68 82.30,245.64 86.30,245.23 89.30,244.68 91.00,244.65 96.80,244.35 99.80,244.07 102.00,244.00 107.30,243.74 112.00,243.54 116.00,243.30 117.80,243.37 125.70,243.49 132.00,243.53 138.80,243.49 140.00,243.46 146.00,243.55 153.10,243.61 160.00,243.65 166.30,243.83 173.10,243.88 174.20,244.00 182.10,244.45 186.30,244.53 189.90,245.21 193.90,245.75 195.00,245.83 198.50,246.48 200.30,246.54 200.40,246.54 202.40,246.87 204.40,247.29 206.40,247.85 207.70,250.43 208.20,252.14 209.00,255.32 209.80,259.25 210.80,267.91 211.80,275.47 213.00,283.23 214.30,288.97 214.60,290.22 216.00,294.30 216.50,295.16 217.80,296.19 220.00,295.56 220.80,295.48 223.70,295.00 229.50,294.48 241.20,294.04 250.00,293.88 255.20,293.74 268.00,293.48 277.40,293.46 290.00,293.38 299.30,293.25 307.50,293.27 319.20,293.26 330.00,293.07 330.90,293.13 342.60,293.36 354.20,293.13 370.00,293.15 383.10,293.06 396.30,293.01 409.40,293.21 410.00,293.22 422.60,293.52 435.70,293.94 439.60,294.18 440.00,294.25 442.90,295.12 445.60,295.93 448.00,296.21 448.20,296.04 449.20,292.88 449.50,292.04 450.30,289.73 451.30,285.83 452.30,281.32 453.50,275.72 454.20,272.82 455.30,265.17 456.40,257.52 456.50,257.12 457.30,253.26 458.10,250.60 459.10,248.14 459.50,247.73 461.50,247.23 464.00,246.93 464.40,246.90 466.10,246.26 466.70,246.07 468.70,245.36 470.50,244.83 471.30,244.79 475.20,244.10 476.60,243.74 480.50,243.51 485.40,243.19 488.40,243.43 497.60,243.51 506.00,243.48 510.70,243.65 521.20,243.61 530.00,243.51 537.90,243.75 547.10,243.94 556.00,243.91 557.60,244.07 566.80,244.51 569.10,244.55 576.00,245.17 577.90,245.25 580.00,245.69 583.00,246.10 584.00,246.17 586.00,246.84 587.50,247.34 589.00,247.34 591.30,247.57 593.10,247.92 594.50,248.82 594.70,249.29 595.70,253.03 597.00,258.52 597.20,259.56 598.30,264.25 600.00,274.92 600.70,279.07 601.50,283.64 603.00,290.34 603.50,291.84 604.20,293.23 605.00,294.46 606.00,294.94 606.10,295.00 609.50,294.58 612.80,294.12 619.60,293.56 625.50,293.16 631.40,292.85" stroke="#cf0000"/><polyline points="34.40,292.60 41.00,292.76 48.00,293.04 48.70,293.06 52.50,293.33 55.60,293.66 57.50,293.99 58.00,294.10 58.60,294.32 59.80,294.44 60.50,293.98 60.80,293.82 62.50,291.44 63.60,286.32 63.90,284.89 65.50,276.26 65.60,275.72 67.20,268.20 67.40,267.44 68.80,260.86 69.00,260.04 70.40,254.07 70.50,253.76 71.50,252.37 72.00,251.83 72.50,251.55 73.50,251.16 75.00,251.06 77.00,251.00 77.10,250.96 78.20,250.80 79.60,250.82 79.70,250.75 80.80,249.82 81.00,249.76 82.20,249.28 82.30,249.24 86.30,248.66 89.30,248.03 91.00,247.96 96.80,247.53 99.80,247.20 102.00,247.11 107.30,246.78 112.00,246.52 116.00,246.24 117.80,246.30 125.70,246.38 132.00,246.39 138.80,246.34 140.00,246.31 146.00,246.41 153.10,246.49 160.00,246.54 166.30,246.75 173.10,246.85 174.20,246.98 182.10,247.54 186.30,247.71 189.90,248.47 193.90,249.13 195.00,249.25 198.50,250.05 200.30,250.22 200.40,250.23 202.40,250.65 204.40,251.15 206.40,251.77 207.70,254.31 208.20,255.90 209.00,258.91 209.80,262.56 210.80,270.36 211.80,277.06 213.00,283.95 214.30,289.11 214.60,290.22 216.00,293.91 216.50,294.71 217.80,295.56 220.00,294.94 220.80,294.87 223.70,294.45 229.50,293.99 241.20,293.60 250.00,293.44 255.20,293.30 268.00,293.03 277.40,292.98 290.00,292.87 299.30,292.69 307.50,292.65 319.20,292.57 330.00,292.33 330.90,292.39 342.60,292.65 354.20,292.51 370.00,292.62 383.10,292.57 396.30,292.57 409.40,292.77 410.00,292.79 422.60,293.08 435.70,293.48 439.60,293.70 440.00,293.76 442.90,294.57 445.60,295.34 448.00,295.63 448.20,295.45 449.20,292.60 449.50,291.83 450.30,289.73 451.30,286.22 452.30,282.09 453.50,276.97 454.20,274.36 455.30,267.58 456.40,260.80 456.50,260.43 457.30,256.88 458.10,254.36 459.10,251.97 459.50,251.59 461.50,251.04 464.00,250.64 464.40,250.60 466.10,249.87 466.70,249.64 468.70,248.84 470.50,248.21 471.30,248.13 475.20,247.31 476.60,246.92 480.50,246.61 485.40,246.20 488.40,246.39 497.60,246.40 506.00,246.33 510.70,246.48 521.20,246.44 530.00,246.35 537.90,246.62 547.10,246.84 556.00,246.88 557.60,247.05 566.80,247.64 569.10,247.73 576.00,248.50 577.90,248.63 580.00,249.13 583.00,249.67 584.00,249.79 586.00,250.57 587.50,251.15 589.00,251.23 591.30,251.55 593.10,251.93 594.50,252.79 594.70,253.25 595.70,256.79 597.00,261.94 597.20,262.90 598.30,267.15 600.00,276.66 600.70,280.37 601.50,284.43 603.00,290.43 603.50,291.79 604.20,292.99 605.00,294.04 606.00,294.44 606.10,294.49 609.50,294.12 612.80,293.71 619.60,293.21 625.50,292.85 631.40,292.57" stroke="#df0000"/><polyline points="34.40,292.36 41.00,292.50 48.00,292.74 48.70,292.76 52.50,292.99 55.60,293.28 57.50,293.57 58.00,293.66 58.60,293.86 59.80,294.00 60.50,293.61 60.80,293.48 62.50,291.49 63.60,286.97 63.90,285.70 65.50,277.95 65.60,277.47 67.20,270.69 67.40,269.99 68.80,263.87 69.00,263.09 70.40,257.46 70.50,257.18 71.50,255.83 72.00,255.28 72.50,255.01 73.50,254.60 75.00,254.47 77.00,254.38 77.10,254.34 78.20,254.12 79.60,254.04 79.70,253.96 80.80,252.96 81.00,252.89 82.20,252.35 82.30,252.30 86.30,251.60 89.30,250.88 91.00,250.78 96.80,250.24 99.80,249.88 102.00,249.75 107.30,249.37 112.00,249.07 116.00,248.75 117.80,248.80 125.70,248.84 132.00,248.84 138.80,248.77 140.00,248.74 146.00,248.85 153.10,248.94 160.00,249.01 166.30,249.24 173.10,249.39 174.20,249.52 182.10,250.19 186.30,250.42 189.90,251.25 193.90,252.02 195.00,252.17 198.50,253.09 200.30,253.36 200.40,253.37 202.40,253.87 204.40,254.44 206.40,255.11 207.70,257.61 208.20,259.11 209.00,261.96 209.80,265.38 210.80,272.46 211.80,278.41 213.00,284.56 214.30,289.23 214.60,290.23 216.00,293.58 216.50,294.32 217.80,295.02 220.00,294.42 220.80,294.36 223.70,293.99 229.50,293.58 241.20,293.21 250.00,293.06 255.20,292.92 268.00,292.65 277.40,292.57 290.00,292.43 299.30,292.22 307.50,292.13 319.20,291.98 330.00,291.70 330.90,291.76 342.60,292.05 354.20,291.99 370.00,292.16 383.10,292.16 396.30,292.19 409.40,292.40 410.00,292.42 422.60,292.70 435.70,293.08 439.60,293.29 440.00,293.34 442.90,294.10 445.60,294.83 448.00,295.13 448.20,294.96 449.20,292.36 449.50,291.65 450.30,289.72 451.30,286.55 452.30,282.75 453.50,278.04 454.20,275.67 455.30,269.63 456.40,263.59 456.50,263.26 457.30,259.97 458.10,257.57 459.10,255.23 459.50,254.88 461.50,254.30 464.00,253.81 464.40,253.75 466.10,252.95 466.70,252.70 468.70,251.81 470.50,251.10 471.30,250.98 475.20,250.05 476.60,249.63 480.50,249.26 485.40,248.77 488.40,248.91 497.60,248.87 506.00,248.76 510.70,248.89 521.20,248.86 530.00,248.78 537.90,249.06 547.10,249.32 556.00,249.41 557.60,249.60 566.80,250.31 569.10,250.44 576.00,251.34 577.90,251.51 580.00,252.07 583.00,252.72 584.00,252.88 586.00,253.75 587.50,254.40 589.00,254.54 591.30,254.93 593.10,255.36 594.50,256.17 594.70,256.63 595.70,260.00 597.00,264.86 597.20,265.74 598.30,269.61 600.00,278.14 600.70,281.48 601.50,285.11 603.00,290.51 603.50,291.75 604.20,292.78 605.00,293.68 606.00,294.01 606.10,294.05 609.50,293.72 612.80,293.36 619.60,292.92 625.50,292.59 631.40,292.34" stroke="#ef0000"/><polyline points="34.40,292.15 41.00,292.28 48.00,292.48 48.70,292.50 52.50,292.70 55.60,292.95 57.50,293.20 58.00,293.28 58.60,293.47 59.80,293.61 60.50,293.29 60.80,293.19 62.50,291.53 63.60,287.52 63.90,286.40 65.50,279.41 65.60,278.98 67.20,272.82 67.40,272.19 68.80,266.46 69.00,265.73 70.40,260.39 70.50,260.13 71.50,258.81 72.00,258.26 72.50,257.99 73.50,257.56 75.00,257.42 77.00,257.29 77.10,257.25 78.20,256.98 79.60,256.81 79.70,256.72 80.80,255.66 81.00,255.58 82.20,255.00 82.30,254.95 86.30,254.12 89.30,253.34 91.00,253.20 96.80,252.58 99.80,252.18 102.00,252.03 107.30,251.61 112.00,251.26 116.00,250.91 117.80,250.95 125.70,250.96 132.00,250.94 138.80,250.87 140.00,250.84 146.00,250.96 153.10,251.06 160.00,251.14 166.30,251.39 173.10,251.57 174.20,251.71 182.10,252.46 186.30,252.76 189.90,253.65 193.90,254.50 195.00,254.69 198.50,255.71 200.30,256.06 200.40,256.08 202.40,256.65 204.40,257.28 206.40,257.99 207.70,260.46 208.20,261.87 209.00,264.60 209.80,267.81 210.80,274.26 211.80,279.57 213.00,285.09 214.30,289.33 214.60,290.23 216.00,293.29 216.50,293.99 217.80,294.55 220.00,293.97 220.80,293.91 223.70,293.58 229.50,293.22 241.20,292.88 250.00,292.74 255.20,292.60 268.00,292.32 277.40,292.22 290.00,292.06 299.30,291.81 307.50,291.68 319.20,291.47 330.00,291.16 330.90,291.21 342.60,291.52 354.20,291.54 370.00,291.77 383.10,291.80 396.30,291.86 409.40,292.08 410.00,292.10 422.60,292.38 435.70,292.74 439.60,292.93 440.00,292.98 442.90,293.70 445.60,294.39 448.00,294.70 448.20,294.53 449.20,292.15 449.50,291.50 450.30,289.72 451.30,286.83 452.30,283.31 453.50,278.96 454.20,276.80 455.30,271.40 456.40,266.00 456.50,265.70 457.30,262.63 458.10,260.34 459.10,258.05 459.50,257.72 461.50,257.10 464.00,256.54 464.40,256.47 466.10,255.60 466.70,255.32 468.70,254.37 470.50,253.58 471.30,253.44 475.20,252.41 476.60,251.97 480.50,251.54 485.40,250.98 488.40,251.09 497.60,251.00 506.00,250.86 510.70,250.97 521.20,250.94 530.00,250.87 537.90,251.17 547.10,251.45 556.00,251.59 557.60,251.79 566.80,252.61 569.10,252.77 576.00,253.78 577.90,253.99 580.00,254.61 583.00,255.34 584.00,255.54 586.00,256.49 587.50,257.21 589.00,257.40 591.30,257.85 593.10,258.31 594.50,259.08 594.70,259.54 595.70,262.77 597.00,267.37 597.20,268.20 598.30,271.74 600.00,279.42 600.70,282.44 601.50,285.69 603.00,290.57 603.50,291.72 604.20,292.60 605.00,293.36 606.00,293.63 606.10,293.67 609.50,293.38 612.80,293.06 619.60,292.66 625.50,292.37 631.40,292.13" stroke="#ff0000"/><polyline points="34.40,291.97 41.00,292.08 48.00,292.26 48.70,292.28 52.50,292.45 55.60,292.67 57.50,292.88 58.00,292.95 58.60,293.13 59.80,293.28 60.50,293.01 60.80,292.94 62.50,291.57 63.60,288.01 63.90,287.01 65.50,280.68 65.60,280.29 67.20,274.68 67.40,274.10 68.80,268.71 69.00,268.02 70.40,262.94 70.50,262.70 71.50,261.40 72.00,260.85 72.50,260.58 73.50,260.13 75.00,259.98 77.00,259.82 77.10,259.78 78.20,259.47 79.60,259.22 79.70,259.13 80.80,258.01 81.00,257.92 82.20,257.30 82.30,257.25 86.30,256.32 89.30,255.49 91.00,255.32 96.80,254.62 99.80,254.18 102.00,254.02 107.30,253.55 112.00,253.16 116.00,252.79 117.80,252.82 125.70,252.81 132.00,252.77 138.80,252.69 140.00,252.66 146.00,252.78 153.10,252.89 160.00,252.99 166.30,253.26 173.10,253.47 174.20,253.61 182.10,254.44 186.30,254.79 189.90,255.73 193.90,256.66 195.00,256.87 198.50,257.99 200.30,258.41 200.40,258.43 202.40,259.06 204.40,259.74 206.40,260.50 207.70,262.93 208.20,264.27 209.00,266.89 209.80,269.92 210.80,275.83 211.80,280.59 213.00,285.55 214.30,289.42 214.60,290.23 216.00,293.04 216.50,293.70 217.80,294.15 220.00,293.57 220.80,293.52 223.70,293.24 229.50,292.91 241.20,292.60 250.00,292.45 255.20,292.31 268.00,292.03 277.40,291.92 290.00,291.73 299.30,291.46 307.50,291.29 319.20,291.03 330.00,290.69 330.90,290.74 342.60,291.07 354.20,291.14 370.00,291.43 383.10,291.49 396.30,291.58 409.40,291.81 410.00,291.82 422.60,292.10 435.70,292.45 439.60,292.62 440.00,292.66 442.90,293.35 445.60,294.01 448.00,294.33 448.20,294.15 449.20,291.97 449.50,291.37 450.30,289.72 451.30,287.08 452.30,283.80 453.50,279.76 454.20,277.79 455.30,272.94 456.40,268.10 456.50,267.82 457.30,264.95 458.10,262.75 459.10,260.49 459.50,260.18 461.50,259.54 464.00,258.92 464.40,258.83 466.10,257.90 466.70,257.61 468.70,256.60 470.50,255.75 471.30,255.58 475.20,254.46 476.60,254.00 480.50,253.52 485.40,252.90 488.40,252.98 497.60,252.85 506.00,252.68 510.70,252.77 521.20,252.75 530.00,252.69 537.90,253.00 547.10,253.31 556.00,253.49 557.60,253.69 566.80,254.61 569.10,254.80 576.00,255.91 577.90,256.16 580.00,256.81 583.00,257.62 584.00,257.85 586.00,258.88 587.50,259.64 589.00,259.89 591.30,260.39 593.10,260.88 594.50,261.61 594.70,262.07 595.70,265.17 597.00,269.55 597.20,270.33 598.30,273.58 600.00,280.54 600.70,283.27 601.50,286.19 603.00,290.63 603.50,291.69 604.20,292.44 605.00,293.09 606.00,293.31 606.10,293.34 609.50,293.08 612.80,292.80 619.60,292.44 625.50,292.17 631.40,291.96" stroke="#ff1000"/><polyline points="34.40,291.82 41.00,291.92 48.00,292.07 48.70,292.09 52.50,292.24 55.60,292.43 57.50,292.62 58.00,292.68 58.60,292.84 59.80,293.00 60.50,292.78 60.80,292.73 62.50,291.60 63.60,288.41 63.90,287.52 65.50,281.75 65.60,281.39 67.20,276.25 67.40,275.70 68.80,270.60 69.00,269.94 70.40,265.08 70.50,264.85 71.50,263.58 72.00,263.03 72.50,262.76 73.50,262.30 75.00,262.13 77.00,261.95 77.10,261.91 78.20,261.56 79.60,261.25 79.70,261.15 80.80,259.99 81.00,259.89 82.20,259.24 82.30,259.18 86.30,258.17 89.30,257.29 91.00,257.09 96.80,256.33 99.80,255.87 102.00,255.69 107.30,255.19 112.00,254.77 116.00,254.37 117.80,254.39 125.70,254.36 132.00,254.32 138.80,254.22 140.00,254.20 146.00,254.32 153.10,254.44 160.00,254.54 166.30,254.83 173.10,255.07 174.20,255.22 182.10,256.11 186.30,256.50 189.90,257.49 193.90,258.48 195.00,258.72 198.50,259.91 200.30,260.39 200.40,260.42 202.40,261.09 204.40,261.82 206.40,262.61 207.70,265.01 208.20,266.29 209.00,268.81 209.80,271.70 210.80,277.15 211.80,281.44 213.00,285.94 214.30,289.49 214.60,290.23 216.00,292.82 216.50,293.46 217.80,293.81 220.00,293.24 220.80,293.20 223.70,292.94 229.50,292.65 241.20,292.35 250.00,292.22 255.20,292.08 268.00,291.79 277.40,291.66 290.00,291.46 299.30,291.16 307.50,290.96 319.20,290.66 330.00,290.29 330.90,290.34 342.60,290.69 354.20,290.81 370.00,291.15 383.10,291.23 396.30,291.34 409.40,291.57 410.00,291.59 422.60,291.86 435.70,292.20 439.60,292.36 440.00,292.40 442.90,293.06 445.60,293.69 448.00,294.02 448.20,293.84 449.20,291.82 449.50,291.26 450.30,289.72 451.30,287.29 452.30,284.22 453.50,280.43 454.20,278.61 455.30,274.24 456.40,269.86 456.50,269.60 457.30,266.89 458.10,264.77 459.10,262.55 459.50,262.26 461.50,261.59 464.00,260.92 464.40,260.82 466.10,259.84 466.70,259.53 468.70,258.47 470.50,257.57 471.30,257.37 475.20,256.19 476.60,255.71 480.50,255.19 485.40,254.52 488.40,254.57 497.60,254.41 506.00,254.21 510.70,254.29 521.20,254.27 530.00,254.22 537.90,254.54 547.10,254.87 556.00,255.08 557.60,255.30 566.80,256.30 569.10,256.51 576.00,257.70 577.90,257.97 580.00,258.66 583.00,259.54 584.00,259.80 586.00,260.88 587.50,261.69 589.00,261.98 591.30,262.53 593.10,263.04 594.50,263.75 594.70,264.20 595.70,267.19 597.00,271.39 597.20,272.13 598.30,275.14 600.00,281.47 600.70,283.96 601.50,286.62 603.00,290.68 603.50,291.67 604.20,292.31 605.00,292.87 606.00,293.04 606.10,293.07 609.50,292.83 612.80,292.58 619.60,292.25 625.50,292.01 631.40,291.81" stroke="#ff2000"/><polyline points="34.40,291.69 41.00,291.77 48.00,291.91 48.70,291.92 52.50,292.05 55.60,292.22 57.50,292.38 58.00,292.43 58.60,292.59 59.80,292.75 60.50,292.58 60.80,292.54 62.50,291.62 63.60,288.77 63.90,287.98 65.50,282.69 65.60,282.36 67.20,277.62 67.40,277.12 68.80,272.27 69.00,271.63 70.40,266.96 70.50,266.75 71.50,265.50 72.00,264.94 72.50,264.67 73.50,264.21 75.00,264.03 77.00,263.83 77.10,263.78 78.20,263.40 79.60,263.03 79.70,262.93 80.80,261.73 81.00,261.63 82.20,260.94 82.30,260.88 86.30,259.79 89.30,258.87 91.00,258.66 96.80,257.83 99.80,257.35 102.00,257.15 107.30,256.63 112.00,256.18 116.00,255.76 117.80,255.77 125.70,255.73 132.00,255.67 138.80,255.57 140.00,255.55 146.00,255.67 153.10,255.80 160.00,255.91 166.30,256.21 173.10,256.47 174.20,256.63 182.10,257.57 186.30,258.01 189.90,259.03 193.90,260.08 195.00,260.33 198.50,261.60 200.30,262.13 200.40,262.16 202.40,262.88 204.40,263.64 206.40,264.46 207.70,266.85 208.20,268.07 209.00,270.51 209.80,273.26 210.80,278.31 211.80,282.19 213.00,286.27 214.30,289.56 214.60,290.23 216.00,292.64 216.50,293.24 217.80,293.51 220.00,292.95 220.80,292.91 223.70,292.68 229.50,292.42 241.20,292.14 250.00,292.01 255.20,291.87 268.00,291.58 277.40,291.43 290.00,291.22 299.30,290.90 307.50,290.67 319.20,290.33 330.00,289.94 330.90,289.99 342.60,290.35 354.20,290.52 370.00,290.89 383.10,291.00 396.30,291.13 409.40,291.37 410.00,291.38 422.60,291.65 435.70,291.98 439.60,292.13 440.00,292.16 442.90,292.80 445.60,293.40 448.00,293.75 448.20,293.57 449.20,291.68 449.50,291.16 450.30,289.71 451.30,287.47 452.30,284.58 453.50,281.03 454.20,279.34 455.30,275.37 456.40,271.41 456.50,271.17 457.30,268.61 458.10,266.55 459.10,264.36 459.50,264.08 461.50,263.39 464.00,262.67 464.40,262.57 466.10,261.55 466.70,261.22 468.70,260.12 470.50,259.16 471.30,258.95 475.20,257.71 476.60,257.21 480.50,256.65 485.40,255.95 488.40,255.97 497.60,255.78 506.00,255.56 510.70,255.63 521.20,255.61 530.00,255.57 537.90,255.90 547.10,256.24 556.00,256.48 557.60,256.71 566.80,257.78 569.10,258.01 576.00,259.27 577.90,259.57 580.00,260.29 583.00,261.23 584.00,261.51 586.00,262.65 587.50,263.50 589.00,263.82 591.30,264.41 593.10,264.93 594.50,265.62 594.70,266.08 595.70,268.97 597.00,273.00 597.20,273.70 598.30,276.51 600.00,282.29 600.70,284.58 601.50,286.99 603.00,290.72 603.50,291.64 604.20,292.19 605.00,292.66 606.00,292.80 606.10,292.83 609.50,292.62 612.80,292.39 619.60,292.09 625.50,291.86 631.40,291.68" stroke="#ff3000"/><polyline points="34.40,291.57 41.00,291.64 48.00,291.76 48.70,291.77 52.50,291.89 55.60,292.03 57.50,292.17 58.00,292.22 58.60,292.37 59.80,292.53 60.50,292.40 60.80,292.38 62.50,291.65 63.60,289.09 63.90,288.37 65.50,283.52 65.60,283.22 67.20,278.84 67.40,278.37 68.80,273.74 69.00,273.13 70.40,268.63 70.50,268.43 71.50,267.19 72.00,266.64 72.50,266.37 73.50,265.89 75.00,265.70 77.00,265.48 77.10,265.44 78.20,265.03 79.60,264.61 79.70,264.50 80.80,263.27 81.00,263.16 82.20,262.45 82.30,262.39 86.30,261.23 89.30,260.27 91.00,260.04 96.80,259.16 99.80,258.66 102.00,258.45 107.30,257.90 112.00,257.42 116.00,256.99 117.80,257.00 125.70,256.94 132.00,256.87 138.80,256.77 140.00,256.74 146.00,256.87 153.10,257.00 160.00,257.12 166.30,257.43 173.10,257.71 174.20,257.87 182.10,258.87 186.30,259.34 189.90,260.39 193.90,261.49 195.00,261.77 198.50,263.09 200.30,263.66 200.40,263.70 202.40,264.46 204.40,265.25 206.40,266.10 207.70,268.47 208.20,269.64 209.00,272.00 209.80,274.64 210.80,279.34 211.80,282.85 213.00,286.57 214.30,289.62 214.60,290.24 216.00,292.47 216.50,293.05 217.80,293.25 220.00,292.69 220.80,292.66 223.70,292.46 229.50,292.21 241.20,291.95 250.00,291.82 255.20,291.68 268.00,291.39 277.40,291.23 290.00,291.00 299.30,290.66 307.50,290.41 319.20,290.04 330.00,289.63 330.90,289.68 342.60,290.06 354.20,290.26 370.00,290.67 383.10,290.80 396.30,290.95 409.40,291.19 410.00,291.20 422.60,291.47 435.70,291.79 439.60,291.93 440.00,291.96 442.90,292.57 445.60,293.15 448.00,293.50 448.20,293.32 449.20,291.56 449.50,291.07 450.30,289.71 451.30,287.63 452.30,284.90 453.50,281.55 454.20,279.99 455.30,276.38 456.40,272.78 456.50,272.56 457.30,270.12 458.10,268.13 459.10,265.96 459.50,265.70 461.50,264.99 464.00,264.23 464.40,264.11 466.10,263.06 466.70,262.72 468.70,261.57 470.50,260.58 471.30,260.35 475.20,259.05 476.60,258.54 480.50,257.95 485.40,257.20 488.40,257.21 497.60,256.99 506.00,256.75 510.70,256.81 521.20,256.79 530.00,256.76 537.90,257.10 547.10,257.46 556.00,257.72 557.60,257.95 566.80,259.09 569.10,259.34 576.00,260.66 577.90,260.98 580.00,261.73 583.00,262.72 584.00,263.02 586.00,264.21 587.50,265.09 589.00,265.44 591.30,266.07 593.10,266.61 594.50,267.28 594.70,267.73 595.70,270.54 597.00,274.43 597.20,275.10 598.30,277.72 600.00,283.02 600.70,285.12 601.50,287.32 603.00,290.76 603.50,291.63 604.20,292.09 605.00,292.49 606.00,292.59 606.10,292.61 609.50,292.42 612.80,292.22 619.60,291.94 625.50,291.74 631.40,291.56" stroke="#ff4000"/><polyline points="34.40,291.47 41.00,291.53 48.00,291.63 48.70,291.64 52.50,291.74 55.60,291.86 57.50,291.99 58.00,292.03 58.60,292.17 59.80,292.34 60.50,292.23 60.80,292.23 62.50,291.67 63.60,289.37 63.90,288.73 65.50,284.26 65.60,283.98 67.20,279.92 67.40,279.48 68.80,275.05 69.00,274.46 70.40,270.11 70.50,269.92 71.50,268.70 72.00,268.14 72.50,267.88 73.50,267.39 75.00,267.19 77.00,266.96 77.10,266.91 78.20,266.48 79.60,266.01 79.70,265.90 80.80,264.64 81.00,264.52 82.20,263.79 82.30,263.73 86.30,262.51 89.30,261.52 91.00,261.27 96.80,260.35 99.80,259.83 102.00,259.61 107.30,259.03 112.00,258.53 116.00,258.09 117.80,258.09 125.70,258.01 132.00,257.94 138.80,257.83 140.00,257.80 146.00,257.93 153.10,258.07 160.00,258.20 166.30,258.52 173.10,258.82 174.20,258.98 182.10,260.02 186.30,260.52 189.90,261.61 193.90,262.75 195.00,263.04 198.50,264.41 200.30,265.03 200.40,265.07 202.40,265.86 204.40,266.69 206.40,267.56 207.70,269.91 208.20,271.04 209.00,273.34 209.80,275.87 210.80,280.25 211.80,283.44 213.00,286.84 214.30,289.67 214.60,290.24 216.00,292.33 216.50,292.88 217.80,293.01 220.00,292.47 220.80,292.43 223.70,292.25 229.50,292.03 241.20,291.79 250.00,291.66 255.20,291.52 268.00,291.22 277.40,291.06 290.00,290.82 299.30,290.46 307.50,290.19 319.20,289.79 330.00,289.36 330.90,289.40 342.60,289.79 354.20,290.03 370.00,290.47 383.10,290.62 396.30,290.78 409.40,291.02 410.00,291.04 422.60,291.30 435.70,291.62 439.60,291.75 440.00,291.77 442.90,292.37 445.60,292.93 448.00,293.29 448.20,293.10 449.20,291.46 449.50,290.99 450.30,289.71 451.30,287.78 452.30,285.19 453.50,282.02 454.20,280.56 455.30,277.28 456.40,274.00 456.50,273.79 457.30,271.47 458.10,269.53 459.10,267.38 459.50,267.13 461.50,266.41 464.00,265.61 464.40,265.49 466.10,264.40 466.70,264.05 468.70,262.87 470.50,261.84 471.30,261.59 475.20,260.24 476.60,259.72 480.50,259.11 485.40,258.33 488.40,258.31 497.60,258.07 506.00,257.81 510.70,257.86 521.20,257.85 530.00,257.82 537.90,258.16 547.10,258.54 556.00,258.83 557.60,259.06 566.80,260.25 569.10,260.53 576.00,261.90 577.90,262.24 580.00,263.02 583.00,264.05 584.00,264.37 586.00,265.59 587.50,266.51 589.00,266.89 591.30,267.54 593.10,268.11 594.50,268.75 594.70,269.21 595.70,271.94 597.00,275.70 597.20,276.34 598.30,278.79 600.00,283.67 600.70,285.60 601.50,287.62 603.00,290.79 603.50,291.61 604.20,292.00 605.00,292.33 606.00,292.40 606.10,292.42 609.50,292.25 612.80,292.07 619.60,291.81 625.50,291.62 631.40,291.46" stroke="#ff5000"/><polyline points="34.40,291.38 41.00,291.43 48.00,291.52 48.70,291.52 52.50,291.61 55.60,291.72 57.50,291.82 58.00,291.86 58.60,291.99 59.80,292.16 60.50,292.09 60.80,292.10 62.50,291.68 63.60,289.62 63.90,289.05 65.50,284.92 65.60,284.67 67.20,280.89 67.40,280.47 68.80,276.23 69.00,275.66 70.40,271.43 70.50,271.26 71.50,270.05 72.00,269.49 72.50,269.22 73.50,268.73 75.00,268.53 77.00,268.28 77.10,268.23 78.20,267.77 79.60,267.27 79.70,267.15 80.80,265.86 81.00,265.74 82.20,264.99 82.30,264.92 86.30,263.65 89.30,262.63 91.00,262.37 96.80,261.40 99.80,260.87 102.00,260.64 107.30,260.04 112.00,259.53 116.00,259.07 117.80,259.06 125.70,258.97 132.00,258.89 138.80,258.78 140.00,258.75 146.00,258.89 153.10,259.03 160.00,259.16 166.30,259.49 173.10,259.81 174.20,259.97 182.10,261.05 186.30,261.58 189.90,262.69 193.90,263.88 195.00,264.18 198.50,265.60 200.30,266.26 200.40,266.30 202.40,267.12 204.40,267.97 206.40,268.86 207.70,271.20 208.20,272.29 209.00,274.53 209.80,276.97 210.80,281.07 211.80,283.97 213.00,287.08 214.30,289.72 214.60,290.24 216.00,292.20 216.50,292.73 217.80,292.80 220.00,292.26 220.80,292.23 223.70,292.07 229.50,291.87 241.20,291.64 250.00,291.51 255.20,291.37 268.00,291.07 277.40,290.90 290.00,290.65 299.30,290.27 307.50,289.98 319.20,289.56 330.00,289.11 330.90,289.16 342.60,289.56 354.20,289.83 370.00,290.29 383.10,290.46 396.30,290.63 409.40,290.88 410.00,290.89 422.60,291.16 435.70,291.46 439.60,291.59 440.00,291.61 442.90,292.19 445.60,292.73 448.00,293.09 448.20,292.91 449.20,291.36 449.50,290.93 450.30,289.71 451.30,287.91 452.30,285.44 453.50,282.43 454.20,281.07 455.30,278.08 456.40,275.09 456.50,274.90 457.30,272.67 458.10,270.78 459.10,268.65 459.50,268.42 461.50,267.68 464.00,266.85 464.40,266.72 466.10,265.60 466.70,265.24 468.70,264.03 470.50,262.96 471.30,262.71 475.20,261.31 476.60,260.78 480.50,260.14 485.40,259.33 488.40,259.30 497.60,259.03 506.00,258.76 510.70,258.80 521.20,258.79 530.00,258.76 537.90,259.12 547.10,259.50 556.00,259.82 557.60,260.06 566.80,261.29 569.10,261.58 576.00,263.00 577.90,263.37 580.00,264.16 583.00,265.24 584.00,265.58 586.00,266.84 587.50,267.78 589.00,268.18 591.30,268.87 593.10,269.45 594.50,270.07 594.70,270.53 595.70,273.20 597.00,276.84 597.20,277.45 598.30,279.75 600.00,284.25 600.70,286.04 601.50,287.88 603.00,290.82 603.50,291.59 604.20,291.92 605.00,292.19 606.00,292.24 606.10,292.25 609.50,292.09 612.80,291.93 619.60,291.70 625.50,291.52 631.40,291.37" stroke="#ff6000"/><polyline points="34.40,291.29 41.00,291.34 48.00,291.41 48.70,291.42 52.50,291.49 55.60,291.58 57.50,291.67 58.00,291.70 58.60,291.83 59.80,292.00 60.50,291.96 60.80,291.98 62.50,291.70 63.60,289.85 63.90,289.33 65.50,285.52 65.60,285.28 67.20,281.76 67.40,281.37 68.80,277.28 69.00,276.73 70.40,272.62 70.50,272.46 71.50,271.26 72.00,270.70 72.50,270.44 73.50,269.94 75.00,269.73 77.00,269.46 77.10,269.41 78.20,268.94 79.60,268.39 79.70,268.28 80.80,266.96 81.00,266.84 82.20,266.06 82.30,266.00 86.30,264.68 89.30,263.63 91.00,263.36 96.80,262.36 99.80,261.81 102.00,261.57 107.30,260.95 112.00,260.42 116.00,259.95 117.80,259.94 125.70,259.84 132.00,259.75 138.80,259.63 140.00,259.60 146.00,259.74 153.10,259.89 160.00,260.03 166.30,260.37 173.10,260.70 174.20,260.86 182.10,261.98 186.30,262.53 189.90,263.67 193.90,264.89 195.00,265.20 198.50,266.67 200.30,267.36 200.40,267.40 202.40,268.25 204.40,269.13 206.40,270.03 207.70,272.35 208.20,273.42 209.00,275.60 209.80,277.96 210.80,281.80 211.80,284.44 213.00,287.29 214.30,289.76 214.60,290.24 216.00,292.08 216.50,292.60 217.80,292.61 220.00,292.08 220.80,292.05 223.70,291.91 229.50,291.73 241.20,291.50 250.00,291.38 255.20,291.24 268.00,290.94 277.40,290.75 290.00,290.49 299.30,290.11 307.50,289.80 319.20,289.35 330.00,288.89 330.90,288.93 342.60,289.35 354.20,289.65 370.00,290.13 383.10,290.31 396.30,290.50 409.40,290.75 410.00,290.76 422.60,291.02 435.70,291.32 439.60,291.44 440.00,291.46 442.90,292.03 445.60,292.56 448.00,292.92 448.20,292.74 449.20,291.28 449.50,290.86 450.30,289.71 451.30,288.02 452.30,285.67 453.50,282.81 454.20,281.53 455.30,278.80 456.40,276.07 456.50,275.89 457.30,273.76 458.10,271.91 459.10,269.80 459.50,269.57 461.50,268.82 464.00,267.96 464.40,267.82 466.10,266.68 466.70,266.31 468.70,265.07 470.50,263.97 471.30,263.71 475.20,262.27 476.60,261.73 480.50,261.07 485.40,260.23 488.40,260.18 497.60,259.90 506.00,259.61 510.70,259.65 521.20,259.64 530.00,259.62 537.90,259.97 547.10,260.37 556.00,260.70 557.60,260.95 566.80,262.23 569.10,262.53 576.00,264.00 577.90,264.38 580.00,265.19 583.00,266.31 584.00,266.66 586.00,267.95 587.50,268.92 589.00,269.35 591.30,270.05 593.10,270.65 594.50,271.26 594.70,271.71 595.70,274.32 597.00,277.86 597.20,278.45 598.30,280.62 600.00,284.77 600.70,286.42 601.50,288.12 603.00,290.84 603.50,291.58 604.20,291.85 605.00,292.06 606.00,292.08 606.10,292.10 609.50,291.96 612.80,291.81 619.60,291.59 625.50,291.43 631.40,291.28" stroke="#ff7000"/><polyline points="34.40,291.21 41.00,291.25 48.00,291.31 48.70,291.32 52.50,291.38 55.60,291.45 57.50,291.53 58.00,291.55 58.60,291.67 59.80,291.85 60.50,291.83 60.80,291.87 62.50,291.72 63.60,290.07 63.90,289.61 65.50,286.10 65.60,285.88 67.20,282.61 67.40,282.24 68.80,278.31 69.00,277.77 70.40,273.79 70.50,273.63 71.50,272.45 72.00,271.89 72.50,271.62 73.50,271.12 75.00,270.90 77.00,270.62 77.10,270.57 78.20,270.07 79.60,269.50 79.70,269.38 80.80,268.03 81.00,267.91 82.20,267.12 82.30,267.05 86.30,265.68 89.30,264.61 91.00,264.32 96.80,263.28 99.80,262.72 102.00,262.47 107.30,261.84 112.00,261.29 116.00,260.81 117.80,260.79 125.70,260.68 132.00,260.58 138.80,260.46 140.00,260.44 146.00,260.58 153.10,260.73 160.00,260.88 166.30,261.22 173.10,261.56 174.20,261.73 182.10,262.88 186.30,263.46 189.90,264.62 193.90,265.87 195.00,266.20 198.50,267.71 200.30,268.43 200.40,268.47 202.40,269.35 204.40,270.25 206.40,271.18 207.70,273.49 208.20,274.51 209.00,276.65 209.80,278.93 210.80,282.52 211.80,284.90 213.00,287.50 214.30,289.80 214.60,290.24 216.00,291.96 216.50,292.46 217.80,292.43 220.00,291.90 220.80,291.87 223.70,291.75 229.50,291.58 241.20,291.37 250.00,291.25 255.20,291.11 268.00,290.81 277.40,290.61 290.00,290.34 299.30,289.95 307.50,289.62 319.20,289.15 330.00,288.68 330.90,288.72 342.60,289.14 354.20,289.47 370.00,289.98 383.10,290.17 396.30,290.37 409.40,290.62 410.00,290.63 422.60,290.90 435.70,291.19 439.60,291.30 440.00,291.32 442.90,291.87 445.60,292.38 448.00,292.75 448.20,292.56 449.20,291.19 449.50,290.80 450.30,289.71 451.30,288.13 452.30,285.90 453.50,283.17 454.20,281.98 455.30,279.50 456.40,277.03 456.50,276.86 457.30,274.81 458.10,273.01 459.10,270.92 459.50,270.70 461.50,269.94 464.00,269.04 464.40,268.90 466.10,267.73 466.70,267.36 468.70,266.09 470.50,264.96 471.30,264.68 475.20,263.21 476.60,262.66 480.50,261.97 485.40,261.11 488.40,261.05 497.60,260.74 506.00,260.44 510.70,260.47 521.20,260.47 530.00,260.45 537.90,260.81 547.10,261.22 556.00,261.57 557.60,261.82 566.80,263.14 569.10,263.46 576.00,264.97 577.90,265.37 580.00,266.20 583.00,267.35 584.00,267.72 586.00,269.04 587.50,270.03 589.00,270.48 591.30,271.21 593.10,271.82 594.50,272.41 594.70,272.87 595.70,275.42 597.00,278.86 597.20,279.43 598.30,281.46 600.00,285.28 600.70,286.80 601.50,288.35 603.00,290.87 603.50,291.57 604.20,291.77 605.00,291.94 606.00,291.94 606.10,291.95 609.50,291.82 612.80,291.69 619.60,291.49 625.50,291.34 631.40,291.20" stroke="#ff8000"/><polyline points="34.40,291.14 41.00,291.16 48.00,291.22 48.70,291.22 52.50,291.27 55.60,291.33 57.50,291.39 58.00,291.41 58.60,291.53 59.80,291.71 60.50,291.72 60.80,291.76 62.50,291.73 63.60,290.27 63.90,289.86 65.50,286.63 65.60,286.43 67.20,283.38 67.40,283.03 68.80,279.25 69.00,278.73 70.40,274.85 70.50,274.70 71.50,273.53 72.00,272.97 72.50,272.70 73.50,272.19 75.00,271.96 77.00,271.67 77.10,271.62 78.20,271.11 79.60,270.50 79.70,270.38 80.80,269.01 81.00,268.88 82.20,268.08 82.30,268.01 86.30,266.60 89.30,265.50 91.00,265.20 96.80,264.13 99.80,263.56 102.00,263.30 107.30,262.65 112.00,262.08 116.00,261.59 117.80,261.57 125.70,261.45 132.00,261.35 138.80,261.22 140.00,261.20 146.00,261.34 153.10,261.50 160.00,261.65 166.30,262.00 173.10,262.36 174.20,262.53 182.10,263.70 186.30,264.30 189.90,265.49 193.90,266.77 195.00,267.11 198.50,268.66 200.30,269.41 200.40,269.45 202.40,270.36 204.40,271.28 206.40,272.22 207.70,274.52 208.20,275.51 209.00,277.60 209.80,279.81 210.80,283.17 211.80,285.32 213.00,287.70 214.30,289.83 214.60,290.24 216.00,291.86 216.50,292.34 217.80,292.26 220.00,291.73 220.80,291.71 223.70,291.60 229.50,291.45 241.20,291.25 250.00,291.13 255.20,291.00 268.00,290.69 277.40,290.49 290.00,290.21 299.30,289.80 307.50,289.46 319.20,288.96 330.00,288.48 330.90,288.52 342.60,288.95 354.20,289.30 370.00,289.84 383.10,290.04 396.30,290.25 409.40,290.51 410.00,290.52 422.60,290.78 435.70,291.07 439.60,291.17 440.00,291.19 442.90,291.72 445.60,292.22 448.00,292.59 448.20,292.41 449.20,291.12 449.50,290.75 450.30,289.71 451.30,288.24 452.30,286.10 453.50,283.51 454.20,282.39 455.30,280.15 456.40,277.90 456.50,277.74 457.30,275.78 458.10,274.01 459.10,271.93 459.50,271.73 461.50,270.95 464.00,270.03 464.40,269.89 466.10,268.69 466.70,268.31 468.70,267.01 470.50,265.86 471.30,265.57 475.20,264.07 476.60,263.51 480.50,262.80 485.40,261.91 488.40,261.84 497.60,261.51 506.00,261.20 510.70,261.23 521.20,261.22 530.00,261.20 537.90,261.57 547.10,261.99 556.00,262.36 557.60,262.61 566.80,263.98 569.10,264.31 576.00,265.86 577.90,266.27 580.00,267.12 583.00,268.30 584.00,268.68 586.00,270.03 587.50,271.05 589.00,271.52 591.30,272.27 593.10,272.89 594.50,273.47 594.70,273.92 595.70,276.42 597.00,279.77 597.20,280.32 598.30,282.23 600.00,285.74 600.70,287.15 601.50,288.56 603.00,290.89 603.50,291.55 604.20,291.71 605.00,291.83 606.00,291.80 606.10,291.81 609.50,291.70 612.80,291.58 619.60,291.40 625.50,291.26 631.40,291.13" stroke="#ff8f00"/><polyline points="34.40,291.07 41.00,291.09 48.00,291.13 48.70,291.14 52.50,291.17 55.60,291.22 57.50,291.27 58.00,291.29 58.60,291.40 59.80,291.59 60.50,291.61 60.80,291.66 62.50,291.75 63.60,290.45 63.90,290.09 65.50,287.11 65.60,286.92 67.20,284.09 67.40,283.76 68.80,280.10 69.00,279.60 70.40,275.82 70.50,275.68 71.50,274.51 72.00,273.95 72.50,273.68 73.50,273.17 75.00,272.94 77.00,272.64 77.10,272.59 78.20,272.06 79.60,271.42 79.70,271.29 80.80,269.91 81.00,269.77 82.20,268.95 82.30,268.88 86.30,267.44 89.30,266.32 91.00,266.00 96.80,264.91 99.80,264.32 102.00,264.05 107.30,263.39 112.00,262.81 116.00,262.31 117.80,262.28 125.70,262.15 132.00,262.04 138.80,261.92 140.00,261.89 146.00,262.03 153.10,262.20 160.00,262.35 166.30,262.71 173.10,263.08 174.20,263.25 182.10,264.46 186.30,265.08 189.90,266.28 193.90,267.60 195.00,267.95 198.50,269.53 200.30,270.31 200.40,270.35 202.40,271.28 204.40,272.22 206.40,273.18 207.70,275.46 208.20,276.43 209.00,278.47 209.80,280.61 210.80,283.77 211.80,285.71 213.00,287.87 214.30,289.87 214.60,290.24 216.00,291.76 216.50,292.23 217.80,292.10 220.00,291.58 220.80,291.56 223.70,291.47 229.50,291.34 241.20,291.14 250.00,291.02 255.20,290.89 268.00,290.58 277.40,290.37 290.00,290.08 299.30,289.66 307.50,289.31 319.20,288.80 330.00,288.30 330.90,288.34 342.60,288.78 354.20,289.15 370.00,289.71 383.10,289.92 396.30,290.15 409.40,290.40 410.00,290.41 422.60,290.67 435.70,290.95 439.60,291.05 440.00,291.07 442.90,291.59 445.60,292.08 448.00,292.45 448.20,292.27 449.20,291.05 449.50,290.70 450.30,289.70 451.30,288.33 452.30,286.29 453.50,283.81 454.20,282.77 455.30,280.73 456.40,278.70 456.50,278.55 457.30,276.66 458.10,274.92 459.10,272.87 459.50,272.67 461.50,271.88 464.00,270.94 464.40,270.79 466.10,269.57 466.70,269.18 468.70,267.86 470.50,266.69 471.30,266.38 475.20,264.85 476.60,264.28 480.50,263.55 485.40,262.64 488.40,262.56 497.60,262.22 506.00,261.89 510.70,261.92 521.20,261.91 530.00,261.90 537.90,262.27 547.10,262.70 556.00,263.08 557.60,263.34 566.80,264.74 569.10,265.08 576.00,266.67 577.90,267.09 580.00,267.96 583.00,269.17 584.00,269.56 586.00,270.94 587.50,271.98 589.00,272.46 591.30,273.24 593.10,273.87 594.50,274.43 594.70,274.89 595.70,277.34 597.00,280.60 597.20,281.13 598.30,282.94 600.00,286.17 600.70,287.47 601.50,288.75 603.00,290.92 603.50,291.54 604.20,291.65 605.00,291.72 606.00,291.68 606.10,291.69 609.50,291.58 612.80,291.48 619.60,291.32 625.50,291.18 631.40,291.06" stroke="#ff9f00"/><polyline points="34.40,291.00 41.00,291.02 48.00,291.05 48.70,291.06 52.50,291.09 55.60,291.12 57.50,291.16 58.00,291.17 58.60,291.28 59.80,291.47 60.50,291.52 60.80,291.58 62.50,291.76 63.60,290.62 63.90,290.31 65.50,287.56 65.60,287.38 67.20,284.74 67.40,284.43 68.80,280.89 69.00,280.40 70.40,276.71 70.50,276.57 71.50,275.42 72.00,274.86 72.50,274.59 73.50,274.07 75.00,273.83 77.00,273.52 77.10,273.47 78.20,272.92 79.60,272.26 79.70,272.13 80.80,270.73 81.00,270.59 82.20,269.76 82.30,269.69 86.30,268.20 89.30,267.07 91.00,266.74 96.80,265.62 99.80,265.02 102.00,264.75 107.30,264.07 112.00,263.48 116.00,262.96 117.80,262.94 125.70,262.80 132.00,262.68 138.80,262.55 140.00,262.53 146.00,262.67 153.10,262.84 160.00,263.00 166.30,263.36 173.10,263.74 174.20,263.92 182.10,265.15 186.30,265.79 189.90,267.01 193.90,268.35 195.00,268.71 198.50,270.32 200.30,271.13 200.40,271.17 202.40,272.12 204.40,273.08 206.40,274.05 207.70,276.32 208.20,277.27 209.00,279.27 209.80,281.35 210.80,284.32 211.80,286.06 213.00,288.03 214.30,289.90 214.60,290.24 216.00,291.68 216.50,292.13 217.80,291.96 220.00,291.45 220.80,291.43 223.70,291.35 229.50,291.23 241.20,291.04 250.00,290.92 255.20,290.79 268.00,290.48 277.40,290.26 290.00,289.97 299.30,289.54 307.50,289.17 319.20,288.64 330.00,288.14 330.90,288.17 342.60,288.62 354.20,289.02 370.00,289.59 383.10,289.81 396.30,290.05 409.40,290.30 410.00,290.32 422.60,290.57 435.70,290.85 439.60,290.94 440.00,290.96 442.90,291.47 445.60,291.94 448.00,292.32 448.20,292.14 449.20,290.99 449.50,290.65 450.30,289.70 451.30,288.42 452.30,286.46 453.50,284.09 454.20,283.11 455.30,281.27 456.40,279.43 456.50,279.29 457.30,277.47 458.10,275.76 459.10,273.72 459.50,273.53 461.50,272.73 464.00,271.77 464.40,271.61 466.10,270.38 466.70,269.98 468.70,268.64 470.50,267.44 471.30,267.13 475.20,265.56 476.60,264.99 480.50,264.25 485.40,263.31 488.40,263.22 497.60,262.86 506.00,262.53 510.70,262.55 521.20,262.54 530.00,262.53 537.90,262.91 547.10,263.35 556.00,263.74 557.60,264.00 566.80,265.44 569.10,265.79 576.00,267.41 577.90,267.84 580.00,268.72 583.00,269.96 584.00,270.37 586.00,271.77 587.50,272.83 589.00,273.33 591.30,274.12 593.10,274.76 594.50,275.32 594.70,275.77 595.70,278.18 597.00,281.36 597.20,281.87 598.30,283.58 600.00,286.55 600.70,287.76 601.50,288.93 603.00,290.94 603.50,291.53 604.20,291.59 605.00,291.63 606.00,291.57 606.10,291.57 609.50,291.48 612.80,291.39 619.60,291.24 625.50,291.12 631.40,291.00" stroke="#ffaf00"/><polyline points="34.40,290.95 41.00,290.96 48.00,290.98 48.70,290.98 52.50,291.01 55.60,291.03 57.50,291.06 58.00,291.07 58.60,291.17 59.80,291.36 60.50,291.43 60.80,291.50 62.50,291.77 63.60,290.78 63.90,290.50 65.50,287.96 65.60,287.80 67.20,285.33 67.40,285.04 68.80,281.61 69.00,281.13 70.40,277.52 70.50,277.39 71.50,276.25 72.00,275.69 72.50,275.42 73.50,274.90 75.00,274.65 77.00,274.33 77.10,274.28 78.20,273.72 79.60,273.03 79.70,272.90 80.80,271.48 81.00,271.34 82.20,270.49 82.30,270.42 86.30,268.91 89.30,267.75 91.00,267.42 96.80,266.27 99.80,265.66 102.00,265.38 107.30,264.69 112.00,264.09 116.00,263.56 117.80,263.53 125.70,263.39 132.00,263.27 138.80,263.14 140.00,263.11 146.00,263.26 153.10,263.43 160.00,263.59 166.30,263.96 173.10,264.35 174.20,264.53 182.10,265.78 186.30,266.44 189.90,267.68 193.90,269.04 195.00,269.41 198.50,271.05 200.30,271.88 200.40,271.93 202.40,272.90 204.40,273.87 206.40,274.85 207.70,277.12 208.20,278.04 209.00,280.01 209.80,282.03 210.80,284.82 211.80,286.39 213.00,288.18 214.30,289.93 214.60,290.24 216.00,291.60 216.50,292.04 217.80,291.83 220.00,291.32 220.80,291.31 223.70,291.24 229.50,291.13 241.20,290.95 250.00,290.83 255.20,290.70 268.00,290.38 277.40,290.16 290.00,289.87 299.30,289.42 307.50,289.04 319.20,288.50 330.00,287.99 330.90,288.02 342.60,288.47 354.20,288.89 370.00,289.48 383.10,289.72 396.30,289.96 409.40,290.21 410.00,290.23 422.60,290.48 435.70,290.76 439.60,290.85 440.00,290.86 442.90,291.36 445.60,291.82 448.00,292.20 448.20,292.02 449.20,290.93 449.50,290.61 450.30,289.70 451.30,288.50 452.30,286.62 453.50,284.35 454.20,283.43 455.30,281.76 456.40,280.10 456.50,279.97 457.30,278.21 458.10,276.53 459.10,274.50 459.50,274.32 461.50,273.51 464.00,272.53 464.40,272.37 466.10,271.12 466.70,270.71 468.70,269.35 470.50,268.13 471.30,267.81 475.20,266.22 476.60,265.64 480.50,264.88 485.40,263.93 488.40,263.82 497.60,263.46 506.00,263.11 510.70,263.12 521.20,263.12 530.00,263.11 537.90,263.50 547.10,263.94 556.00,264.35 557.60,264.61 566.80,266.08 569.10,266.44 576.00,268.09 577.90,268.54 580.00,269.43 583.00,270.69 584.00,271.11 586.00,272.54 587.50,273.61 589.00,274.13 591.30,274.94 593.10,275.58 594.50,276.13 594.70,276.58 595.70,278.95 597.00,282.06 597.20,282.56 598.30,284.17 600.00,286.91 600.70,288.02 601.50,289.09 603.00,290.95 603.50,291.52 604.20,291.54 605.00,291.54 606.00,291.46 606.10,291.47 609.50,291.39 612.80,291.31 619.60,291.17 625.50,291.05 631.40,290.94" stroke="#ffbf00"/><polyline points="34.40,290.89 41.00,290.90 48.00,290.92 48.70,290.92 52.50,290.93 55.60,290.95 57.50,290.97 58.00,290.97 58.60,291.07 59.80,291.26 60.50,291.34 60.80,291.42 62.50,291.78 63.60,290.92 63.90,290.68 65.50,288.34 65.60,288.19 67.20,285.88 67.40,285.60 68.80,282.27 69.00,281.81 70.40,278.27 70.50,278.15 71.50,277.01 72.00,276.45 72.50,276.18 73.50,275.66 75.00,275.41 77.00,275.08 77.10,275.03 78.20,274.46 79.60,273.74 79.70,273.61 80.80,272.17 81.00,272.03 82.20,271.17 82.30,271.10 86.30,269.55 89.30,268.38 91.00,268.04 96.80,266.87 99.80,266.25 102.00,265.97 107.30,265.27 112.00,264.65 116.00,264.12 117.80,264.09 125.70,263.93 132.00,263.81 138.80,263.67 140.00,263.65 146.00,263.80 153.10,263.97 160.00,264.13 166.30,264.51 173.10,264.91 174.20,265.09 182.10,266.37 186.30,267.04 189.90,268.29 193.90,269.68 195.00,270.06 198.50,271.73 200.30,272.57 200.40,272.62 202.40,273.61 204.40,274.60 206.40,275.59 207.70,277.85 208.20,278.75 209.00,280.68 209.80,282.65 210.80,285.28 211.80,286.69 213.00,288.31 214.30,289.95 214.60,290.24 216.00,291.52 216.50,291.95 217.80,291.71 220.00,291.21 220.80,291.19 223.70,291.13 229.50,291.04 241.20,290.87 250.00,290.75 255.20,290.62 268.00,290.30 277.40,290.07 290.00,289.77 299.30,289.32 307.50,288.93 319.20,288.37 330.00,287.85 330.90,287.88 342.60,288.34 354.20,288.77 370.00,289.38 383.10,289.62 396.30,289.87 409.40,290.13 410.00,290.15 422.60,290.40 435.70,290.67 439.60,290.75 440.00,290.76 442.90,291.25 445.60,291.71 448.00,292.09 448.20,291.91 449.20,290.87 449.50,290.57 450.30,289.70 451.30,288.57 452.30,286.76 453.50,284.58 454.20,283.72 455.30,282.22 456.40,280.72 456.50,280.59 457.30,278.89 458.10,277.24 459.10,275.22 459.50,275.05 461.50,274.23 464.00,273.23 464.40,273.07 466.10,271.80 466.70,271.38 468.70,270.01 470.50,268.77 471.30,268.44 475.20,266.83 476.60,266.24 480.50,265.47 485.40,264.50 488.40,264.38 497.60,264.00 506.00,263.65 510.70,263.66 521.20,263.66 530.00,263.65 537.90,264.04 547.10,264.49 556.00,264.91 557.60,265.17 566.80,266.67 569.10,267.04 576.00,268.72 577.90,269.17 580.00,270.08 583.00,271.37 584.00,271.79 586.00,273.24 587.50,274.33 589.00,274.86 591.30,275.69 593.10,276.34 594.50,276.88 594.70,277.33 595.70,279.66 597.00,282.71 597.20,283.19 598.30,284.72 600.00,287.24 600.70,288.27 601.50,289.24 603.00,290.97 603.50,291.52 604.20,291.50 605.00,291.46 606.00,291.37 606.10,291.37 609.50,291.30 612.80,291.23 619.60,291.10 625.50,290.99 631.40,290.89" stroke="#ffcf00"/><polyline points="34.40,290.84 41.00,290.85 48.00,290.86 48.70,290.86 52.50,290.86 55.60,290.87 57.50,290.88 58.00,290.88 58.60,290.98 59.80,291.17 60.50,291.27 60.80,291.35 62.50,291.79 63.60,291.05 63.90,290.85 65.50,288.68 65.60,288.55 67.20,286.39 67.40,286.12 68.80,282.89 69.00,282.43 70.40,278.96 70.50,278.85 71.50,277.71 72.00,277.15 72.50,276.88 73.50,276.35 75.00,276.10 77.00,275.77 77.10,275.71 78.20,275.13 79.60,274.40 79.70,274.26 80.80,272.81 81.00,272.67 82.20,271.80 82.30,271.72 86.30,270.15 89.30,268.96 91.00,268.61 96.80,267.42 99.80,266.80 102.00,266.50 107.30,265.79 112.00,265.17 116.00,264.63 117.80,264.59 125.70,264.44 132.00,264.31 138.80,264.17 140.00,264.14 146.00,264.29 153.10,264.47 160.00,264.64 166.30,265.02 173.10,265.42 174.20,265.61 182.10,266.90 186.30,267.59 189.90,268.86 193.90,270.27 195.00,270.65 198.50,272.35 200.30,273.21 200.40,273.26 202.40,274.26 204.40,275.27 206.40,276.27 207.70,278.52 208.20,279.40 209.00,281.30 209.80,283.22 210.80,285.71 211.80,286.96 213.00,288.44 214.30,289.98 214.60,290.24 216.00,291.45 216.50,291.87 217.80,291.60 220.00,291.10 220.80,291.09 223.70,291.04 229.50,290.95 241.20,290.79 250.00,290.67 255.20,290.54 268.00,290.22 277.40,289.99 290.00,289.68 299.30,289.22 307.50,288.82 319.20,288.25 330.00,287.72 330.90,287.75 342.60,288.22 354.20,288.67 370.00,289.29 383.10,289.54 396.30,289.80 409.40,290.06 410.00,290.07 422.60,290.32 435.70,290.59 439.60,290.67 440.00,290.68 442.90,291.16 445.60,291.61 448.00,291.99 448.20,291.81 449.20,290.83 449.50,290.53 450.30,289.70 451.30,288.64 452.30,286.90 453.50,284.80 454.20,283.98 455.30,282.63 456.40,281.29 456.50,281.17 457.30,279.52 458.10,277.90 459.10,275.89 459.50,275.72 461.50,274.89 464.00,273.87 464.40,273.71 466.10,272.42 466.70,272.00 468.70,270.61 470.50,269.36 471.30,269.02 475.20,267.38 476.60,266.79 480.50,266.01 485.40,265.02 488.40,264.90 497.60,264.50 506.00,264.14 510.70,264.15 521.20,264.15 530.00,264.14 537.90,264.54 547.10,264.99 556.00,265.43 557.60,265.69 566.80,267.21 569.10,267.59 576.00,269.29 577.90,269.76 580.00,270.68 583.00,271.99 584.00,272.42 586.00,273.89 587.50,274.99 589.00,275.53 591.30,276.38 593.10,277.04 594.50,277.57 594.70,278.02 595.70,280.31 597.00,283.30 597.20,283.77 598.30,285.22 600.00,287.54 600.70,288.49 601.50,289.37 603.00,290.99 603.50,291.51 604.20,291.46 605.00,291.39 606.00,291.28 606.10,291.28 609.50,291.22 612.80,291.16 619.60,291.04 625.50,290.94 631.40,290.84" stroke="#ffdf00"/><polyline points="34.40,290.80 41.00,290.80 48.00,290.80 48.70,290.80 52.50,290.80 55.60,290.80 57.50,290.80 58.00,290.80 58.60,290.90 59.80,291.09 60.50,291.20 60.80,291.29 62.50,291.80 63.60,291.17 63.90,291.00 65.50,289.00 65.60,288.87 67.20,286.85 67.40,286.60 68.80,283.45 69.00,283.00 70.40,279.60 70.50,279.49 71.50,278.36 72.00,277.80 72.50,277.53 73.50,277.00 75.00,276.74 77.00,276.40 77.10,276.35 78.20,275.75 79.60,275.00 79.70,274.87 80.80,273.40 81.00,273.25 82.20,272.37 82.30,272.30 86.30,270.70 89.30,269.50 91.00,269.14 96.80,267.93 99.80,267.30 102.00,267.00 107.30,266.28 112.00,265.64 116.00,265.10 117.80,265.06 125.70,264.90 132.00,264.77 138.80,264.62 140.00,264.60 146.00,264.75 153.10,264.93 160.00,265.10 166.30,265.48 173.10,265.90 174.20,266.08 182.10,267.40 186.30,268.10 189.90,269.38 193.90,270.81 195.00,271.20 198.50,272.92 200.30,273.80 200.40,273.85 202.40,274.87 204.40,275.88 206.40,276.90 207.70,279.14 208.20,280.00 209.00,281.88 209.80,283.75 210.80,286.10 211.80,287.21 213.00,288.55 214.30,290.00 214.60,290.25 216.00,291.39 216.50,291.80 217.80,291.50 220.00,291.00 220.80,290.99 223.70,290.95 229.50,290.87 241.20,290.72 250.00,290.60 255.20,290.47 268.00,290.15 277.40,289.92 290.00,289.60 299.30,289.14 307.50,288.73 319.20,288.14 330.00,287.60 330.90,287.64 342.60,288.10 354.20,288.57 370.00,289.20 383.10,289.46 396.30,289.73 409.40,289.99 410.00,290.00 422.60,290.25 435.70,290.51 439.60,290.59 440.00,290.60 442.90,291.07 445.60,291.51 448.00,291.90 448.20,291.71 449.20,290.78 449.50,290.50 450.30,289.70 451.30,288.70 452.30,287.02 453.50,285.00 454.20,284.23 455.30,283.02 456.40,281.81 456.50,281.70 457.30,280.10 458.10,278.50 459.10,276.50 459.50,276.33 461.50,275.50 464.00,274.47 464.40,274.30 466.10,273.00 466.70,272.58 468.70,271.17 470.50,269.90 471.30,269.56 475.20,267.90 476.60,267.30 480.50,266.50 485.40,265.50 488.40,265.37 497.60,264.97 506.00,264.60 510.70,264.60 521.20,264.60 530.00,264.60 537.90,265.00 547.10,265.45 556.00,265.90 557.60,266.17 566.80,267.71 569.10,268.10 576.00,269.83 577.90,270.30 580.00,271.23 583.00,272.56 584.00,273.00 586.00,274.49 587.50,275.60 589.00,276.16 591.30,277.01 593.10,277.68 594.50,278.20 594.70,278.65 595.70,280.91 597.00,283.85 597.20,284.30 598.30,285.68 600.00,287.82 600.70,288.70 601.50,289.50 603.00,291.00 603.50,291.50 604.20,291.42 605.00,291.32 606.00,291.20 606.10,291.20 609.50,291.14 612.80,291.09 619.60,290.99 625.50,290.89 631.40,290.80" stroke="#ffef00"/></g>
<g fill="none" stroke-width="1.3" stroke-dasharray="1.3 1.3">
<polyline points="34.40,297.79 41.00,298.42 48.00,299.49 48.70,299.60 52.50,300.63 55.60,301.91 57.50,303.20 58.00,303.62 58.60,304.18 59.80,304.12 60.50,302.00 60.80,301.12 62.50,290.40 63.60,272.34 63.90,267.26 65.50,239.50 65.60,237.77 67.20,214.41 67.40,212.18 68.80,195.70 69.00,193.81 70.40,180.42 70.50,179.54 71.50,177.40 72.00,176.91 72.50,176.62 73.50,176.62 75.00,176.96 77.00,177.73 77.10,177.74 78.20,178.80 79.60,181.07 79.70,181.19 80.80,181.82 81.00,182.01 82.20,182.66 82.30,182.70 86.30,185.10 89.30,186.08 91.00,186.84 96.80,188.69 99.80,189.22 102.00,189.72 107.30,190.52 112.00,191.36 116.00,191.83 117.80,192.18 125.70,192.95 132.00,193.39 138.80,193.59 140.00,193.55 146.00,193.52 153.10,193.30 160.00,193.01 166.30,192.70 173.10,191.92 174.20,191.86 182.10,190.27 186.30,188.89 189.90,188.13 193.90,186.61 195.00,185.93 198.50,184.08 200.30,182.19 200.40,182.09 202.40,180.78 204.40,179.80 206.40,179.27 207.70,182.67 208.20,186.39 209.00,192.65 209.80,201.41 210.80,224.98 211.80,247.76 213.00,270.68 214.30,286.55 214.60,290.16 216.00,301.18 216.50,303.11 217.80,307.25 220.00,306.31 220.80,306.08 223.70,304.55 229.50,302.99 241.20,301.90 250.00,301.64 255.20,301.45 268.00,301.36 277.40,301.83 290.00,302.30 299.30,302.96 307.50,303.99 319.20,305.35 330.00,305.99 330.90,306.10 342.60,305.77 354.20,303.89 370.00,302.48 383.10,301.55 396.30,300.76 409.40,300.81 410.00,300.83 422.60,301.24 435.70,302.03 439.60,302.67 440.00,302.88 442.90,304.66 445.60,306.37 448.00,306.38 448.20,306.24 449.20,297.85 449.50,295.67 450.30,289.81 451.30,279.06 452.30,267.88 453.50,253.82 454.20,245.87 455.30,223.03 456.40,200.18 456.50,199.09 457.30,189.90 458.10,184.73 459.10,181.21 459.50,180.20 461.50,180.48 464.00,181.93 464.40,182.23 466.10,183.15 466.70,183.49 468.70,184.44 470.50,185.65 471.30,186.33 475.20,187.93 476.60,188.13 480.50,189.22 485.40,190.53 488.40,191.63 497.60,192.85 506.00,193.63 510.70,194.20 521.20,194.05 530.00,193.72 537.90,193.60 547.10,193.16 556.00,192.01 557.60,191.92 566.80,189.73 569.10,188.95 576.00,186.98 577.90,186.11 580.00,185.40 583.00,183.66 584.00,182.84 586.00,181.57 587.50,180.62 589.00,179.32 591.30,178.09 593.10,177.66 594.50,179.47 594.70,179.97 595.70,187.21 597.00,198.75 597.20,201.15 598.30,213.67 600.00,244.46 600.70,256.35 601.50,269.81 603.00,288.79 603.50,292.63 604.20,297.52 605.00,301.87 606.00,303.77 606.10,303.97 609.50,302.68 612.80,301.25 619.60,299.64 625.50,298.51 631.40,297.68" stroke="#18e020"/>
<polyline points="34.40,294.43 41.00,294.75 48.00,295.31 48.70,295.36 52.50,295.90 55.60,296.57 57.50,297.24 58.00,297.45 58.60,297.79 59.80,297.85 60.50,296.81 60.80,296.39 62.50,291.07 63.60,281.40 63.90,278.68 65.50,263.31 65.60,262.35 67.20,249.25 67.40,247.98 68.80,237.91 69.00,236.71 70.40,228.12 70.50,227.61 71.50,225.96 72.00,225.44 72.50,225.15 73.50,224.90 75.00,224.95 77.00,225.19 77.10,225.17 78.20,225.43 79.60,226.25 79.70,226.24 80.80,225.87 81.00,225.89 82.20,225.81 82.30,225.80 86.30,226.27 89.30,226.20 91.00,226.43 96.80,226.80 99.80,226.78 102.00,226.89 107.30,226.96 112.00,227.09 116.00,227.07 117.80,227.23 125.70,227.56 132.00,227.72 138.80,227.76 140.00,227.72 146.00,227.78 153.10,227.75 160.00,227.68 166.30,227.71 173.10,227.50 174.20,227.56 182.10,227.37 186.30,226.99 189.90,227.21 193.90,227.11 195.00,226.94 198.50,226.81 200.30,226.25 200.40,226.22 202.40,226.03 204.40,226.02 206.40,226.23 207.70,229.07 208.20,231.41 209.00,235.56 209.80,241.02 210.80,254.37 211.80,266.74 213.00,279.28 214.30,288.21 214.60,290.20 216.00,296.47 216.50,297.67 217.80,299.68 220.00,298.95 220.80,298.82 223.70,298.01 229.50,297.16 241.20,296.52 250.00,296.33 255.20,296.17 268.00,295.97 277.40,296.10 290.00,296.19 299.30,296.31 307.50,296.65 319.20,297.07 330.00,297.15 330.90,297.22 342.60,297.27 354.20,296.52 370.00,296.10 383.10,295.73 396.30,295.45 409.40,295.61 410.00,295.62 422.60,295.95 435.70,296.49 439.60,296.86 440.00,296.97 442.90,298.12 445.60,299.22 448.00,299.42 448.20,299.26 449.20,294.45 449.50,293.18 450.30,289.76 451.30,283.70 452.30,277.08 453.50,268.82 454.20,264.32 455.30,251.88 456.40,239.44 456.50,238.82 457.30,233.29 458.10,229.83 459.10,227.04 459.50,226.44 461.50,226.19 464.00,226.44 464.40,226.51 466.10,226.36 466.70,226.34 468.70,226.16 470.50,226.17 471.30,226.36 475.20,226.39 476.60,226.21 480.50,226.39 485.40,226.59 488.40,227.10 497.60,227.54 506.00,227.77 510.70,228.06 521.20,227.99 530.00,227.81 537.90,227.94 547.10,227.93 556.00,227.55 557.60,227.63 566.80,227.24 569.10,227.02 576.00,226.83 577.90,226.60 580.00,226.68 583.00,226.42 584.00,226.20 586.00,226.26 587.50,226.30 589.00,225.89 591.30,225.67 593.10,225.77 594.50,226.96 594.70,227.43 595.70,232.28 597.00,239.68 597.20,241.14 598.30,248.31 600.00,265.32 600.70,271.91 601.50,279.28 603.00,289.85 603.50,292.09 604.20,294.58 605.00,296.80 606.00,297.73 606.10,297.83 609.50,297.13 612.80,296.37 619.60,295.48 625.50,294.85 631.40,294.37" stroke="#2020c8"/>
</g>
<g stroke="#d4d4d4" stroke-width="1.2" fill="none"><path d="M34.40,3.20 V337.80 H631.40"/>
<path d="M34.40,337.80 v-5.5 M89.70,337.80 v-5.5 M145.00,337.80 v-5.5 M200.30,337.80 v-5.5 M255.60,337.80 v-5.5 M310.90,337.80 v-5.5 M366.20,337.80 v-5.5 M421.50,337.80 v-5.5 M476.80,337.80 v-5.5 M532.10,337.80 v-5.5 M587.40,337.80 v-5.5 M34.40,294.80 h5.5 M34.40,238.02 h5.5 M34.40,181.24 h5.5 M34.40,124.46 h5.5 M34.40,67.68 h5.5 M34.40,10.90 h5.5"/></g>
<g font-size="8.5"><text x="34.40" y="349.5" text-anchor="middle">0</text><text x="89.70" y="349.5" text-anchor="middle">10</text><text x="145.00" y="349.5" text-anchor="middle">20</text><text x="200.30" y="349.5" text-anchor="middle">30</text><text x="255.60" y="349.5" text-anchor="middle">40</text><text x="310.90" y="349.5" text-anchor="middle">50</text><text x="366.20" y="349.5" text-anchor="middle">60</text><text x="421.50" y="349.5" text-anchor="middle">70</text><text x="476.80" y="349.5" text-anchor="middle">80</text><text x="532.10" y="349.5" text-anchor="middle">90</text><text x="587.40" y="349.5" text-anchor="middle">100</text><text x="31.3" y="298.20" text-anchor="end">0</text><text x="31.3" y="241.42" text-anchor="end">1000</text><text x="31.3" y="184.64" text-anchor="end">2000</text><text x="31.3" y="127.86" text-anchor="end">3000</text><text x="31.3" y="71.08" text-anchor="end">4000</text><text x="31.3" y="14.30" text-anchor="end">5000</text></g>
<text x="332.8" y="361.9" font-size="9.4" text-anchor="middle">Profile Line [mm]</text>
<text transform="translate(8.6,170.8) rotate(-90)" font-size="9.4" text-anchor="middle">CT Number [HU]</text>
<g font-size="8.2"><line x1="636.4" y1="13.55" x2="648.9" y2="13.55" stroke="#100000" stroke-width="1.3"/><text transform="translate(650.8,16.85) scale(0.95,1)">40 [keV]</text><line x1="636.4" y1="23.38" x2="648.9" y2="23.38" stroke="#200000" stroke-width="1.3"/><text transform="translate(650.8,26.68) scale(0.95,1)">45 [keV]</text><line x1="636.4" y1="33.21" x2="648.9" y2="33.21" stroke="#300000" stroke-width="1.3"/><text transform="translate(650.8,36.51) scale(0.95,1)">50 [keV]</text><line x1="636.4" y1="43.04" x2="648.9" y2="43.04" stroke="#400000" stroke-width="1.3"/><text transform="translate(650.8,46.34) scale(0.95,1)">55 [keV]</text><line x1="636.4" y1="52.87" x2="648.9" y2="52.87" stroke="#500000" stroke-width="1.3"/><text transform="translate(650.8,56.17) scale(0.95,1)">60 [keV]</text><line x1="636.4" y1="62.70" x2="648.9" y2="62.70" stroke="#600000" stroke-width="1.3"/><text transform="translate(650.8,66.00) scale(0.95,1)">65 [keV]</text><line x1="636.4" y1="72.53" x2="648.9" y2="72.53" stroke="#700000" stroke-width="1.3"/><text transform="translate(650.8,75.83) scale(0.95,1)">70 [keV]</text><line x1="636.4" y1="82.36" x2="648.9" y2="82.36" stroke="#800000" stroke-width="1.3"/><text transform="translate(650.8,85.66) scale(0.95,1)">75 [keV]</text><line x1="636.4" y1="92.19" x2="648.9" y2="92.19" stroke="#8f0000" stroke-width="1.3"/><text transform="translate(650.8,95.49) scale(0.95,1)">80 [keV]</text><line x1="636.4" y1="102.02" x2="648.9" y2="102.02" stroke="#9f0000" stroke-width="1.3"/><text transform="translate(650.8,105.32) scale(0.95,1)">85 [keV]</text><line x1="636.4" y1="111.85" x2="648.9" y2="111.85" stroke="#af0000" stroke-width="1.3"/><text transform="translate(650.8,115.15) scale(0.95,1)">90 [keV]</text><line x1="636.4" y1="121.68" x2="648.9" y2="121.68" stroke="#bf0000" stroke-width="1.3"/><text transform="translate(650.8,124.98) scale(0.95,1)">95 [keV]</text><line x1="636.4" y1="131.51" x2="648.9" y2="131.51" stroke="#cf0000" stroke-width="1.3"/><text transform="translate(650.8,134.81) scale(0.95,1)">100 [keV]</text><line x1="636.4" y1="141.34" x2="648.9" y2="141.34" stroke="#df0000" stroke-width="1.3"/><text transform="translate(650.8,144.64) scale(0.95,1)">105 [keV]</text><line x1="636.4" y1="151.17" x2="648.9" y2="151.17" stroke="#ef0000" stroke-width="1.3"/><text transform="translate(650.8,154.47) scale(0.95,1)">110 [keV]</text><line x1="636.4" y1="161.00" x2="648.9" y2="161.00" stroke="#ff0000" stroke-width="1.3"/><text transform="translate(650.8,164.30) scale(0.95,1)">115 [keV]</text><line x1="636.4" y1="170.83" x2="648.9" y2="170.83" stroke="#ff1000" stroke-width="1.3"/><text transform="translate(650.8,174.13) scale(0.95,1)">120 [keV]</text><line x1="636.4" y1="180.66" x2="648.9" y2="180.66" stroke="#ff2000" stroke-width="1.3"/><text transform="translate(650.8,183.96) scale(0.95,1)">125 [keV]</text><line x1="636.4" y1="190.49" x2="648.9" y2="190.49" stroke="#ff3000" stroke-width="1.3"/><text transform="translate(650.8,193.79) scale(0.95,1)">130 [keV]</text><line x1="636.4" y1="200.32" x2="648.9" y2="200.32" stroke="#ff4000" stroke-width="1.3"/><text transform="translate(650.8,203.62) scale(0.95,1)">135 [keV]</text><line x1="636.4" y1="210.15" x2="648.9" y2="210.15" stroke="#ff5000" stroke-width="1.3"/><text transform="translate(650.8,213.45) scale(0.95,1)">140 [keV]</text><line x1="636.4" y1="219.98" x2="648.9" y2="219.98" stroke="#ff6000" stroke-width="1.3"/><text transform="translate(650.8,223.28) scale(0.95,1)">145 [keV]</text><line x1="636.4" y1="229.81" x2="648.9" y2="229.81" stroke="#ff7000" stroke-width="1.3"/><text transform="translate(650.8,233.11) scale(0.95,1)">150 [keV]</text><line x1="636.4" y1="239.64" x2="648.9" y2="239.64" stroke="#ff8000" stroke-width="1.3"/><text transform="translate(650.8,242.94) scale(0.95,1)">155 [keV]</text><line x1="636.4" y1="249.47" x2="648.9" y2="249.47" stroke="#ff8f00" stroke-width="1.3"/><text transform="translate(650.8,252.77) scale(0.95,1)">160 [keV]</text><line x1="636.4" y1="259.30" x2="648.9" y2="259.30" stroke="#ff9f00" stroke-width="1.3"/><text transform="translate(650.8,262.60) scale(0.95,1)">165 [keV]</text><line x1="636.4" y1="269.13" x2="648.9" y2="269.13" stroke="#ffaf00" stroke-width="1.3"/><text transform="translate(650.8,272.43) scale(0.95,1)">170 [keV]</text><line x1="636.4" y1="278.96" x2="648.9" y2="278.96" stroke="#ffbf00" stroke-width="1.3"/><text transform="translate(650.8,282.26) scale(0.95,1)">175 [keV]</text><line x1="636.4" y1="288.79" x2="648.9" y2="288.79" stroke="#ffcf00" stroke-width="1.3"/><text transform="translate(650.8,292.09) scale(0.95,1)">180 [keV]</text><line x1="636.4" y1="298.62" x2="648.9" y2="298.62" stroke="#ffdf00" stroke-width="1.3"/><text transform="translate(650.8,301.92) scale(0.95,1)">185 [keV]</text><line x1="636.4" y1="308.45" x2="648.9" y2="308.45" stroke="#ffef00" stroke-width="1.3"/><text transform="translate(650.8,311.75) scale(0.95,1)">190 [keV]</text><line x1="636.4" y1="318.28" x2="648.9" y2="318.28" stroke="#18e020" stroke-width="1.3" stroke-dasharray="1.3 1.3"/><text transform="translate(650.8,321.58) scale(0.95,1)">T1</text><line x1="636.4" y1="328.11" x2="648.9" y2="328.11" stroke="#2020c8" stroke-width="1.3" stroke-dasharray="1.3 1.3"/><text transform="translate(650.8,331.41) scale(0.95,1)">T2</text></g>
<text x="4.2" y="337.2" font-size="28" style="fill:#000;stroke:#000;stroke-width:0.3">a</text>
<path d="M60.26,408.40 V667.80 M143.57,408.40 V667.80 M226.89,408.40 V667.80 M310.20,408.40 V667.80 M43.60,667.80 H310.20 M43.60,624.49 H310.20 M43.60,581.19 H310.20 M43.60,537.88 H310.20 M43.60,494.58 H310.20 M43.60,451.27 H310.20" stroke="#ececec" stroke-width="1" fill="none"/><path d="M43.60,408.40 V667.80 H310.20" stroke="#a8a8a8" stroke-width="1.1" fill="none"/><path d="M60.26,667.80 v-4 M143.57,667.80 v-4 M226.89,667.80 v-4 M310.20,667.80 v-4 M43.60,667.80 h4 M43.60,624.49 h4 M43.60,581.19 h4 M43.60,537.88 h4 M43.60,494.58 h4 M43.60,451.27 h4" stroke="#a8a8a8" stroke-width="1.1" fill="none"/><polyline points="43.60,431.15 45.27,441.22 46.93,450.83 48.60,459.98 50.27,468.71 51.93,477.03 53.60,484.96 55.26,492.52 56.93,499.73 58.60,506.61 60.26,513.16 61.93,519.41 63.59,525.37 65.26,531.06 66.93,536.48 68.59,541.65 70.26,546.58 71.93,551.29 73.59,555.78 75.26,560.06 76.92,564.15 78.59,568.05 80.26,571.77 81.92,575.33 83.59,578.72 85.26,581.95 86.92,585.04 88.59,587.99 90.25,590.81 91.92,593.50 93.59,596.07 95.25,598.53 96.92,600.88 98.59,603.12 100.25,605.26 101.92,607.31 103.58,609.27 105.25,611.14 106.92,612.93 108.58,614.64 110.25,616.28 111.92,617.85 113.58,619.35 115.25,620.78 116.91,622.16 118.58,623.47 120.25,624.74 121.91,625.94 123.58,627.10 125.25,628.21 126.91,629.28 128.58,630.30 130.25,631.28 131.91,632.22 133.58,633.12 135.24,633.99 136.91,634.82 138.58,635.62 140.24,636.39 141.91,637.13 143.57,637.84 145.24,638.53 146.91,639.19 148.57,639.83 150.24,640.44 151.91,641.03 153.57,641.60 155.24,642.15 156.91,642.68 158.57,643.19 160.24,643.68 161.90,644.16 163.57,644.62 165.24,645.07 166.90,645.50 168.57,645.92 170.23,646.33 171.90,646.72 173.57,647.11 175.23,647.48 176.90,647.84 178.57,648.19 180.23,648.53 181.90,648.86 183.56,649.18 185.23,649.50 186.90,649.80 188.56,650.10 190.23,650.39 191.90,650.68 193.56,650.95 195.23,651.22 196.89,651.49 198.56,651.75 200.23,652.00 201.89,652.25 203.56,652.50 205.23,652.73 206.89,652.97 208.56,653.20 210.22,653.43 211.89,653.65 213.56,653.87 215.22,654.08 216.89,654.29 218.56,654.50 220.22,654.70 221.89,654.91 223.55,655.11 225.22,655.30 226.89,655.50 228.55,655.69 230.22,655.88 231.89,656.06 233.55,656.25 235.22,656.43 236.88,656.61 238.55,656.79 240.22,656.97 241.88,657.14 243.55,657.31 245.22,657.49 246.88,657.66 248.55,657.83 250.21,657.99 251.88,658.16 253.55,658.32 255.21,658.49 256.88,658.65 258.55,658.81 260.21,658.97 261.88,659.13 263.55,659.29 265.21,659.45 266.88,659.61 268.54,659.76 270.21,659.92 271.88,660.07 273.54,660.22 275.21,660.38 276.87,660.53 278.54,660.68 280.21,660.83 281.87,660.98 283.54,661.13 285.21,661.28 286.87,661.43 288.54,661.57 290.20,661.72 291.87,661.87 293.54,662.01" fill="none" stroke="#000" stroke-width="2.2"/><polyline points="43.60,577.80 45.27,580.00 46.93,582.10 48.60,584.10 50.27,586.00 51.93,587.82 53.60,589.56 55.26,591.21 56.93,592.79 58.60,594.29 60.26,595.73 61.93,597.10 63.59,598.40 65.26,599.65 66.93,600.84 68.59,601.97 70.26,603.05 71.93,604.08 73.59,605.06 75.26,606.00 76.92,606.90 78.59,607.75 80.26,608.57 81.92,609.35 83.59,610.09 85.26,610.80 86.92,611.48 88.59,612.13 90.25,612.75 91.92,613.34 93.59,613.90 95.25,614.44 96.92,614.95 98.59,615.45 100.25,615.92 101.92,616.37 103.58,616.79 105.25,617.21 106.92,617.60 108.58,617.97 110.25,618.33 111.92,618.68 113.58,619.01 115.25,619.32 116.91,619.62 118.58,619.91 120.25,620.19 121.91,620.45 123.58,620.70 125.25,620.95 126.91,621.18 128.58,621.40 130.25,621.62 131.91,621.82 133.58,622.02 135.24,622.21 136.91,622.39 138.58,622.57 140.24,622.73 141.91,622.89 143.57,623.05 145.24,623.20 146.91,623.34 148.57,623.48 150.24,623.61 151.91,623.74 153.57,623.86 155.24,623.98 156.91,624.10 158.57,624.21 160.24,624.32 161.90,624.42 163.57,624.52 165.24,624.61 166.90,624.71 168.57,624.80 170.23,624.89 171.90,624.97 173.57,625.05 175.23,625.13 176.90,625.21 178.57,625.28 180.23,625.36 181.90,625.43 183.56,625.49 185.23,625.56 186.90,625.63 188.56,625.69 190.23,625.75 191.90,625.81 193.56,625.87 195.23,625.93 196.89,625.98 198.56,626.04 200.23,626.09 201.89,626.14 203.56,626.19 205.23,626.24 206.89,626.29 208.56,626.34 210.22,626.39 211.89,626.43 213.56,626.48 215.22,626.52 216.89,626.57 218.56,626.61 220.22,626.65 221.89,626.70 223.55,626.74 225.22,626.78 226.89,626.82 228.55,626.86 230.22,626.90 231.89,626.93 233.55,626.97 235.22,627.01 236.88,627.05 238.55,627.08 240.22,627.12 241.88,627.15 243.55,627.19 245.22,627.23 246.88,627.26 248.55,627.29 250.21,627.33 251.88,627.36 253.55,627.40 255.21,627.43 256.88,627.46 258.55,627.49 260.21,627.53 261.88,627.56 263.55,627.59 265.21,627.62 266.88,627.66 268.54,627.69 270.21,627.72 271.88,627.75 273.54,627.78 275.21,627.81 276.87,627.84 278.54,627.87 280.21,627.90 281.87,627.93 283.54,627.96 285.21,627.99 286.87,628.02 288.54,628.05 290.20,628.08 291.87,628.11 293.54,628.14" fill="none" stroke="#000" stroke-width="2.2" stroke-dasharray="2 1.75"/><text x="60.26" y="685.40" text-anchor="middle" font-size="13.4">50</text><text x="143.57" y="685.40" text-anchor="middle" font-size="13.4">100</text><text x="226.89" y="685.40" text-anchor="middle" font-size="13.4">150</text><text x="310.20" y="685.40" text-anchor="middle" font-size="13.4">200</text><text x="38.90" y="672.70" text-anchor="end" font-size="13.4">-50</text><text x="38.90" y="629.39" text-anchor="end" font-size="13.4">0</text><text x="38.90" y="586.09" text-anchor="end" font-size="13.4">50</text><text x="38.90" y="542.78" text-anchor="end" font-size="13.4">100</text><text x="38.90" y="499.48" text-anchor="end" font-size="13.4">150</text><text x="38.90" y="456.17" text-anchor="end" font-size="13.4">200</text><text x="177.90" y="703.20" text-anchor="middle" font-size="14.8">VMI Energy [keV]</text><text transform="translate(12.40,538.10) rotate(-90)" text-anchor="middle" font-size="14.8">CT Number [HU]</text><text x="177.40" y="403.00" text-anchor="middle" font-size="14.9" font-weight="bold" style="fill:#000">Cupping Artifact</text><rect x="215.20" y="413.40" width="89.50" height="32.30" fill="#fff" stroke="#a0a0a0" stroke-width="0.9"/><line x1="218.20" y1="422.50" x2="237.90" y2="422.50" stroke="#000" stroke-width="2.2"/><line x1="218.20" y1="437.40" x2="237.90" y2="437.40" stroke="#000" stroke-width="2.2" stroke-dasharray="2 1.75"/><text x="240.10" y="426.60" font-size="11.9" style="fill:#000">Iodine</text><text x="240.10" y="441.70" font-size="11.9" style="fill:#000">Gadolinium</text><text x="1.30" y="675.40" font-size="26.0" style="fill:#000;stroke:#000;stroke-width:0.3">b</text>
<path d="M410.67,415.20 V674.50 M492.01,415.20 V674.50 M573.36,415.20 V674.50 M654.70,415.20 V674.50 M394.40,674.50 H654.70 M394.40,645.69 H654.70 M394.40,616.88 H654.70 M394.40,588.07 H654.70 M394.40,559.26 H654.70 M394.40,530.44 H654.70 M394.40,501.63 H654.70 M394.40,472.82 H654.70 M394.40,444.01 H654.70 M394.40,415.20 H654.70" stroke="#ececec" stroke-width="1" fill="none"/><path d="M394.40,415.20 V674.50 H654.70" stroke="#a8a8a8" stroke-width="1.1" fill="none"/><path d="M410.67,674.50 v-4 M492.01,674.50 v-4 M573.36,674.50 v-4 M654.70,674.50 v-4 M394.40,674.50 h4 M394.40,645.69 h4 M394.40,616.88 h4 M394.40,588.07 h4 M394.40,559.26 h4 M394.40,530.44 h4 M394.40,501.63 h4 M394.40,472.82 h4 M394.40,444.01 h4 M394.40,415.20 h4" stroke="#a8a8a8" stroke-width="1.1" fill="none"/><polyline points="394.40,442.52 396.03,451.54 397.65,460.14 399.28,468.32 400.91,476.11 402.53,483.53 404.16,490.60 405.79,497.33 407.41,503.75 409.04,509.86 410.67,515.68 412.30,521.23 413.92,526.52 415.55,531.56 417.18,536.37 418.80,540.95 420.43,545.31 422.06,549.48 423.68,553.45 425.31,557.24 426.94,560.85 428.56,564.30 430.19,567.58 431.82,570.72 433.44,573.72 435.07,576.58 436.70,579.31 438.33,581.91 439.95,584.40 441.58,586.78 443.21,589.05 444.83,591.22 446.46,593.30 448.09,595.28 449.71,597.18 451.34,598.99 452.97,600.73 454.59,602.38 456.22,603.97 457.85,605.49 459.48,606.95 461.10,608.34 462.73,609.68 464.36,610.96 465.98,612.18 467.61,613.36 469.24,614.48 470.86,615.56 472.49,616.60 474.12,617.60 475.74,618.55 477.37,619.47 479.00,620.35 480.62,621.20 482.25,622.01 483.88,622.79 485.50,623.55 487.13,624.27 488.76,624.97 490.39,625.64 492.01,626.29 493.64,626.91 495.27,627.51 496.89,628.09 498.52,628.65 500.15,629.19 501.77,629.71 503.40,630.21 505.03,630.70 506.65,631.17 508.28,631.62 509.91,632.06 511.54,632.49 513.16,632.90 514.79,633.30 516.42,633.68 518.04,634.06 519.67,634.42 521.30,634.78 522.92,635.12 524.55,635.45 526.18,635.77 527.80,636.09 529.43,636.39 531.06,636.69 532.68,636.98 534.31,637.26 535.94,637.53 537.57,637.80 539.19,638.06 540.82,638.31 542.45,638.56 544.07,638.80 545.70,639.03 547.33,639.26 548.95,639.49 550.58,639.71 552.21,639.92 553.83,640.13 555.46,640.34 557.09,640.54 558.71,640.73 560.34,640.92 561.97,641.11 563.60,641.30 565.22,641.48 566.85,641.66 568.48,641.83 570.10,642.00 571.73,642.17 573.36,642.33 574.98,642.49 576.61,642.65 578.24,642.81 579.86,642.96 581.49,643.11 583.12,643.26 584.74,643.40 586.37,643.55 588.00,643.69 589.62,643.83 591.25,643.96 592.88,644.10 594.51,644.23 596.13,644.36 597.76,644.49 599.39,644.61 601.01,644.74 602.64,644.86 604.27,644.98 605.89,645.10 607.52,645.22 609.15,645.33 610.77,645.45 612.40,645.56 614.03,645.67 615.65,645.78 617.28,645.89 618.91,646.00 620.54,646.10 622.16,646.20 623.79,646.31 625.42,646.41 627.04,646.51 628.67,646.61 630.30,646.71 631.92,646.80 633.55,646.90 635.18,646.99 636.80,647.08 638.43,647.18" fill="none" stroke="#000" stroke-width="2.2"/><polyline points="394.40,575.11 396.03,577.41 397.65,579.59 399.28,581.64 400.91,583.58 402.53,585.42 404.16,587.15 405.79,588.79 407.41,590.33 409.04,591.80 410.67,593.18 412.30,594.49 413.92,595.72 415.55,596.89 417.18,598.00 418.80,599.05 420.43,600.04 422.06,600.97 423.68,601.86 425.31,602.70 426.94,603.50 428.56,604.25 430.19,604.96 431.82,605.64 433.44,606.28 435.07,606.89 436.70,607.46 438.33,608.01 439.95,608.53 441.58,609.02 443.21,609.49 444.83,609.93 446.46,610.35 448.09,610.76 449.71,611.14 451.34,611.50 452.97,611.84 454.59,612.17 456.22,612.48 457.85,612.78 459.48,613.07 461.10,613.34 462.73,613.59 464.36,613.84 465.98,614.08 467.61,614.30 469.24,614.52 470.86,614.72 472.49,614.92 474.12,615.11 475.74,615.29 477.37,615.46 479.00,615.63 480.62,615.79 482.25,615.94 483.88,616.09 485.50,616.23 487.13,616.37 488.76,616.50 490.39,616.63 492.01,616.75 493.64,616.87 495.27,616.98 496.89,617.10 498.52,617.20 500.15,617.31 501.77,617.41 503.40,617.51 505.03,617.60 506.65,617.69 508.28,617.78 509.91,617.87 511.54,617.96 513.16,618.04 514.79,618.12 516.42,618.20 518.04,618.28 519.67,618.35 521.30,618.42 522.92,618.50 524.55,618.57 526.18,618.64 527.80,618.70 529.43,618.77 531.06,618.84 532.68,618.90 534.31,618.96 535.94,619.03 537.57,619.09 539.19,619.15 540.82,619.21 542.45,619.26 544.07,619.32 545.70,619.38 547.33,619.44 548.95,619.49 550.58,619.55 552.21,619.60 553.83,619.65 555.46,619.71 557.09,619.76 558.71,619.81 560.34,619.86 561.97,619.91 563.60,619.96 565.22,620.01 566.85,620.06 568.48,620.11 570.10,620.16 571.73,620.21 573.36,620.26 574.98,620.30 576.61,620.35 578.24,620.40 579.86,620.44 581.49,620.49 583.12,620.54 584.74,620.58 586.37,620.63 588.00,620.67 589.62,620.72 591.25,620.76 592.88,620.80 594.51,620.85 596.13,620.89 597.76,620.94 599.39,620.98 601.01,621.02 602.64,621.06 604.27,621.11 605.89,621.15 607.52,621.19 609.15,621.23 610.77,621.27 612.40,621.32 614.03,621.36 615.65,621.40 617.28,621.44 618.91,621.48 620.54,621.52 622.16,621.56 623.79,621.60 625.42,621.64 627.04,621.68 628.67,621.72 630.30,621.76 631.92,621.80 633.55,621.84 635.18,621.88 636.80,621.92 638.43,621.96" fill="none" stroke="#000" stroke-width="2.2" stroke-dasharray="2 1.75"/><text x="410.67" y="692.10" text-anchor="middle" font-size="13.4">50</text><text x="492.01" y="692.10" text-anchor="middle" font-size="13.4">100</text><text x="573.36" y="692.10" text-anchor="middle" font-size="13.4">150</text><text x="654.70" y="692.10" text-anchor="middle" font-size="13.4">200</text><text x="389.70" y="679.40" text-anchor="end" font-size="13.4">-200</text><text x="389.70" y="650.59" text-anchor="end" font-size="13.4">-100</text><text x="389.70" y="621.78" text-anchor="end" font-size="13.4">0</text><text x="389.70" y="592.97" text-anchor="end" font-size="13.4">100</text><text x="389.70" y="564.16" text-anchor="end" font-size="13.4">200</text><text x="389.70" y="535.34" text-anchor="end" font-size="13.4">300</text><text x="389.70" y="506.53" text-anchor="end" font-size="13.4">400</text><text x="389.70" y="477.72" text-anchor="end" font-size="13.4">500</text><text x="389.70" y="448.91" text-anchor="end" font-size="13.4">600</text><text x="389.70" y="420.10" text-anchor="end" font-size="13.4">700</text><text x="525.55" y="709.50" text-anchor="middle" font-size="14.8">VMI Energy [keV]</text><text transform="translate(357.40,544.85) rotate(-90)" text-anchor="middle" font-size="14.8">CT Number [HU]</text><text x="526.00" y="410.10" text-anchor="middle" font-size="14.9" font-weight="bold" style="fill:#000">Shadow Artifact</text><rect x="559.80" y="420.40" width="89.30" height="32.30" fill="#fff" stroke="#a0a0a0" stroke-width="0.9"/><line x1="562.80" y1="429.50" x2="582.50" y2="429.50" stroke="#000" stroke-width="2.2"/><line x1="562.80" y1="444.40" x2="582.50" y2="444.40" stroke="#000" stroke-width="2.2" stroke-dasharray="2 1.75"/><text x="584.70" y="433.60" font-size="11.9" style="fill:#000">Iodine</text><text x="584.70" y="448.70" font-size="11.9" style="fill:#000">Gadolinium</text><text x="343.30" y="677.50" font-size="27.0" style="fill:#000;stroke:#000;stroke-width:0.3">c</text>
</svg></body></html>
